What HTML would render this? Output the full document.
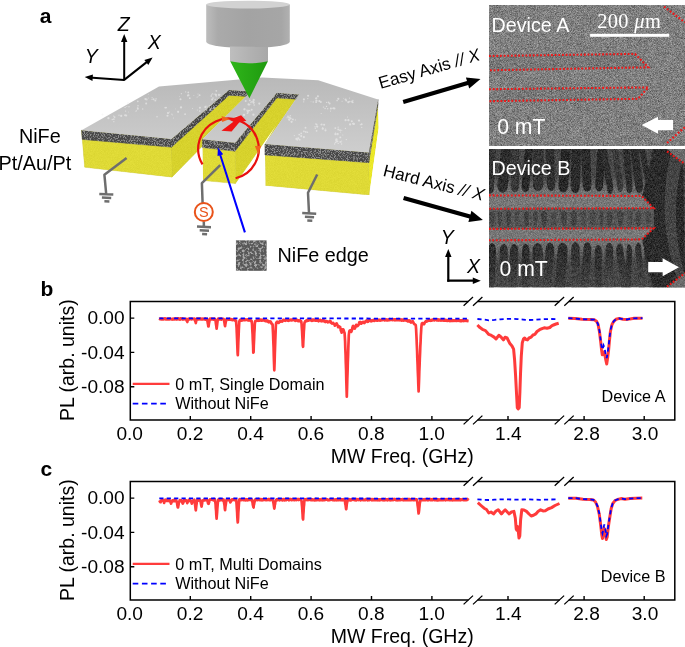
<!DOCTYPE html>
<html><head><meta charset="utf-8"><title>Figure</title><style>
html,body{margin:0;padding:0;background:#fff}
svg{display:block}
text{font-family:"Liberation Sans",Arial,Helvetica,sans-serif;fill:#000}
.tk{font-size:19.1px}
.ax{font-size:19.5px}
.lg{font-size:16.2px}
.pl{font-size:21px;font-weight:bold}
.lb{font-size:19.8px}
.it{font-size:19.5px;font-style:italic}
.axl{font-size:17.1px}
.wt{font-size:19.7px;fill:#fff}
.wt2{font-size:21.2px;fill:#fff}
.sb{font-family:"Liberation Serif","DejaVu Serif",serif;font-size:20.4px;letter-spacing:0.35px;fill:#fff}
</style></head><body>
<svg width="685" height="647" viewBox="0 0 685 647">
<rect width="685" height="647" fill="#fff"/>
<defs>
<filter id="nz" x="0" y="0" width="100%" height="100%" color-interpolation-filters="sRGB">
 <feTurbulence type="fractalNoise" baseFrequency="1.3" numOctaves="1" seed="3" result="t"/>
 <feColorMatrix in="t" type="matrix" values="0 0 0 0 0  0 0 0 0 0  0 0 0 0 0  6 0 0 0 -2.8" result="a"/>
 <feFlood flood-color="#8e8e8e"/><feComposite in2="a" operator="in" result="sp"/>
 <feMerge><feMergeNode in="SourceGraphic"/><feMergeNode in="sp"/></feMerge>
 <feComposite in2="SourceGraphic" operator="in"/>
</filter>
<filter id="semA" x="0" y="0" width="100%" height="100%" color-interpolation-filters="sRGB">
 <feTurbulence type="fractalNoise" baseFrequency="1.7" numOctaves="2" seed="7" result="t"/>
 <feColorMatrix in="t" type="matrix" values="0.55 0 0 0 0.225  0.55 0 0 0 0.225  0.55 0 0 0 0.225  0 0 0 0 1"/>
</filter>
<filter id="semB" x="0" y="0" width="100%" height="100%" color-interpolation-filters="sRGB">
 <feGaussianBlur in="SourceGraphic" stdDeviation="0.7" result="b"/>
 <feTurbulence type="fractalNoise" baseFrequency="1.7" numOctaves="2" seed="11" result="t"/>
 <feColorMatrix in="t" type="matrix" values="1 0 0 0 0  1 0 0 0 0  1 0 0 0 0  0 0 0 0 1" result="n"/>
 <feComposite in="b" in2="n" operator="arithmetic" k1="0" k2="1" k3="0.34" k4="-0.17"/>
</filter>
<filter id="yn" x="0" y="0" width="100%" height="100%" color-interpolation-filters="sRGB">
 <feTurbulence type="fractalNoise" baseFrequency="1.3" numOctaves="1" seed="5" result="t"/>
 <feColorMatrix in="t" type="matrix" values="1 0 0 0 0  1 0 0 0 0  1 0 0 0 0  0 0 0 0 1" result="n"/>
 <feComposite in="SourceGraphic" in2="n" operator="arithmetic" k1="0" k2="1" k3="0.08" k4="-0.04" result="c"/>
 <feComposite in="c" in2="SourceGraphic" operator="in"/>
</filter>
<filter id="nz2" x="0" y="0" width="100%" height="100%" color-interpolation-filters="sRGB">
 <feTurbulence type="fractalNoise" baseFrequency="0.42" numOctaves="2" seed="8" result="t"/>
 <feColorMatrix in="t" type="matrix" values="0 0 0 0 0  0 0 0 0 0  0 0 0 0 0  5 0 0 0 -2.35" result="a"/>
 <feFlood flood-color="#a8a8a8"/><feComposite in2="a" operator="in" result="sp"/>
 <feMerge><feMergeNode in="SourceGraphic"/><feMergeNode in="sp"/></feMerge>
 <feComposite in2="SourceGraphic" operator="in"/>
</filter>
<filter id="bl"><feGaussianBlur stdDeviation="0.5"/></filter>
<linearGradient id="gtop" x1="0" y1="0" x2="0" y2="1"><stop offset="0" stop-color="#b9b9b9"/><stop offset="1" stop-color="#cecece"/></linearGradient>
<linearGradient id="glens" x1="0" y1="0" x2="1" y2="0"><stop offset="0" stop-color="#bdbdbd"/><stop offset="0.14" stop-color="#aaaaaa"/><stop offset="0.5" stop-color="#a3a3a3"/><stop offset="0.9" stop-color="#a6a6a6"/><stop offset="1" stop-color="#b1b1b1"/></linearGradient>
<linearGradient id="glens2" x1="0" y1="0" x2="1" y2="0"><stop offset="0" stop-color="#bebebe"/><stop offset="0.5" stop-color="#b2b2b2"/><stop offset="1" stop-color="#a8a8a8"/></linearGradient>
<linearGradient id="gcone" x1="0" y1="0" x2="1" y2="0"><stop offset="0" stop-color="#2fb51a"/><stop offset="1" stop-color="#1f9a0f"/></linearGradient>
<linearGradient id="gyl" x1="0" y1="0" x2="1" y2="0"><stop offset="0" stop-color="#e6e03c"/><stop offset="1" stop-color="#dcd435"/></linearGradient>
<marker id="ah" viewBox="0 0 10 10" refX="8" refY="5" markerWidth="5" markerHeight="5" orient="auto-start-reverse" markerUnits="strokeWidth"><path d="M0,0.5 L10,5 L0,9.5 z" fill="#000"/></marker>
<linearGradient id="gfT" x1="0" y1="0" x2="0" y2="1"><stop offset="0" stop-color="#727272" stop-opacity="0"/><stop offset="0.6" stop-color="#727272" stop-opacity="0.8"/><stop offset="1" stop-color="#747474"/></linearGradient>
<linearGradient id="gfB" x1="0" y1="0" x2="0" y2="1"><stop offset="0" stop-color="#747474"/><stop offset="0.4" stop-color="#727272" stop-opacity="0.8"/><stop offset="1" stop-color="#727272" stop-opacity="0"/></linearGradient>
<linearGradient id="gf0" gradientUnits="userSpaceOnUse" x1="0" y1="242" x2="0" y2="287"><stop offset="0" stop-color="#2a2a2a"/><stop offset="0.5" stop-color="#303030"/><stop offset="1" stop-color="#3e3e3e"/></linearGradient>
<linearGradient id="gf1" gradientUnits="userSpaceOnUse" x1="0" y1="242" x2="0" y2="287"><stop offset="0" stop-color="#2e2e2e"/><stop offset="0.5" stop-color="#383838"/><stop offset="1" stop-color="#4a4a4a"/></linearGradient>
<linearGradient id="gf2" gradientUnits="userSpaceOnUse" x1="0" y1="242" x2="0" y2="287"><stop offset="0" stop-color="#2c2c2c"/><stop offset="0.5" stop-color="#343434"/><stop offset="1" stop-color="#444444"/></linearGradient>
<clipPath id="cpB"><rect x="489" y="149" width="196" height="138.4"/></clipPath>
</defs>
<g filter="url(#yn)" stroke-width="0.7" stroke-linejoin="round"><polygon points="81.5,130.3 171.5,139.0 172.3,177.2 84.6,167.3" fill="#dfda36" stroke="#dfda36"/><polygon points="171.5,139.0 229.0,90.0 250.8,91.6 202.4,139.2 202.9,146.0 172.3,177.2" fill="#d7d22c" stroke="#d7d22c"/><polygon points="235.0,142.7 276.9,92.8 299.0,94.4 264.9,144.0 264.9,156.0 235.7,183.6" fill="#d7d22c" stroke="#d7d22c"/><polygon points="368.7,152.5 378.0,99.4 378.6,128.0 369.2,195.0" fill="#ebe828"/><polygon points="202.4,139.2 235.0,142.7 235.7,183.6 203.0,180.6" fill="#dfda36" stroke="#dfda36"/><polygon points="264.9,144.0 368.7,152.5 369.2,195.0 265.4,185.4" fill="#dfda36" stroke="#dfda36"/></g>
<polygon points="276.2,125.3 264.9,144.0 265.4,185.4 236.0,186.6 235.7,183.6" fill="#fff"/>
<polygon points="172.3,177.2 202.4,146.5 203.0,182.6 172.3,183.2" fill="#fff"/>
<g filter="url(#nz)" stroke="#474747" stroke-width="0.7"><polygon points="81.5,130.3 171.5,139.0 171.5,147.3 82.1,139.5" fill="#474747"/><polygon points="171.5,139.0 229.0,90.0 229.0,95.4 171.5,147.3" fill="#444444"/><polygon points="229.0,90.0 250.8,91.6 250.8,96.8 229.0,95.4" fill="#474747"/><polygon points="202.4,139.2 235.0,142.7 235.0,151.3 202.4,147.6" fill="#474747"/><polygon points="235.0,142.7 276.9,92.8 276.9,98.0 235.0,151.3" fill="#444444"/><polygon points="276.9,92.8 299.0,94.4 299.0,99.6 276.9,98.0" fill="#474747"/><polygon points="264.9,144.0 368.7,152.5 368.7,162.7 264.9,155.0" fill="#474747"/><polygon points="368.7,152.5 378.0,99.4 378.2,104.4 368.9,162.7" fill="#777"/></g>
<polygon points="81.5,130.3 171.5,139.0 229.0,90.0 250.8,91.6 202.4,139.2 235.0,142.7 276.9,92.8 299.0,94.4 264.9,144.0 368.7,152.5 378.0,99.4 318.2,80.3 262.0,77.5 159.0,86.6" fill="url(#gtop)"/>
<g fill="#f4f4f4" opacity="0.55"><circle cx="112.3" cy="119.4" r="0.73"/><circle cx="113.8" cy="118.9" r="0.73"/><circle cx="125.1" cy="115.3" r="0.99"/><circle cx="113.8" cy="121.7" r="0.64"/><circle cx="113.9" cy="119.3" r="0.60"/><circle cx="126.2" cy="115.5" r="1.01"/><circle cx="113.7" cy="116.1" r="0.67"/><circle cx="102.5" cy="114.5" r="1.05"/><circle cx="114.6" cy="117.1" r="0.87"/><circle cx="107.3" cy="114.9" r="0.57"/><circle cx="108.4" cy="118.2" r="1.10"/><circle cx="119.0" cy="115.2" r="0.66"/><circle cx="121.2" cy="115.9" r="1.07"/><circle cx="138.0" cy="105.7" r="0.74"/><circle cx="126.8" cy="106.5" r="0.56"/><circle cx="128.5" cy="112.1" r="0.48"/><circle cx="142.7" cy="109.0" r="0.65"/><circle cx="125.1" cy="107.4" r="0.69"/><circle cx="137.7" cy="108.0" r="0.74"/><circle cx="136.0" cy="111.2" r="0.64"/><circle cx="125.6" cy="111.1" r="0.67"/><circle cx="118.4" cy="106.1" r="0.52"/><circle cx="137.8" cy="108.7" r="0.99"/><circle cx="129.0" cy="106.8" r="0.68"/><circle cx="136.5" cy="110.4" r="0.48"/><circle cx="128.0" cy="103.2" r="1.12"/><circle cx="148.6" cy="94.5" r="0.46"/><circle cx="146.2" cy="103.5" r="0.99"/><circle cx="137.8" cy="101.3" r="0.88"/><circle cx="152.1" cy="97.6" r="0.58"/><circle cx="146.9" cy="99.3" r="0.72"/><circle cx="155.2" cy="98.6" r="0.46"/><circle cx="153.5" cy="99.3" r="1.00"/><circle cx="146.8" cy="100.1" r="0.52"/><circle cx="156.3" cy="98.8" r="0.60"/><circle cx="151.9" cy="99.2" r="0.57"/><circle cx="148.5" cy="98.1" r="0.48"/><circle cx="145.5" cy="99.1" r="1.15"/><circle cx="155.3" cy="100.5" r="0.99"/><circle cx="157.0" cy="116.8" r="0.78"/><circle cx="172.3" cy="115.1" r="0.48"/><circle cx="168.0" cy="113.1" r="1.07"/><circle cx="175.4" cy="108.9" r="0.47"/><circle cx="171.9" cy="114.2" r="0.60"/><circle cx="173.4" cy="118.0" r="0.55"/><circle cx="185.1" cy="114.2" r="0.85"/><circle cx="178.1" cy="111.8" r="1.08"/><circle cx="166.0" cy="107.6" r="0.97"/><circle cx="169.4" cy="112.0" r="0.60"/><circle cx="181.0" cy="107.4" r="1.10"/><circle cx="167.5" cy="115.8" r="1.01"/><circle cx="165.1" cy="107.7" r="0.82"/><circle cx="181.4" cy="93.7" r="0.64"/><circle cx="198.0" cy="93.9" r="0.50"/><circle cx="199.6" cy="95.2" r="0.92"/><circle cx="197.1" cy="97.1" r="0.54"/><circle cx="193.9" cy="95.5" r="0.49"/><circle cx="189.8" cy="98.2" r="0.85"/><circle cx="185.7" cy="91.9" r="0.60"/><circle cx="198.2" cy="96.1" r="0.46"/><circle cx="187.9" cy="95.4" r="1.02"/><circle cx="188.3" cy="92.4" r="0.84"/><circle cx="188.6" cy="95.2" r="0.92"/><circle cx="180.5" cy="99.3" r="0.99"/><circle cx="179.5" cy="96.4" r="0.47"/><circle cx="211.3" cy="108.7" r="0.79"/><circle cx="209.3" cy="105.5" r="0.55"/><circle cx="199.7" cy="111.1" r="0.82"/><circle cx="214.1" cy="108.3" r="1.03"/><circle cx="210.2" cy="109.5" r="0.72"/><circle cx="206.0" cy="106.0" r="0.61"/><circle cx="192.5" cy="108.5" r="0.52"/><circle cx="210.0" cy="110.2" r="1.07"/><circle cx="199.9" cy="107.8" r="1.05"/><circle cx="205.3" cy="107.1" r="1.07"/><circle cx="206.4" cy="109.9" r="1.04"/><circle cx="197.4" cy="110.0" r="0.57"/><circle cx="207.1" cy="106.9" r="0.55"/><circle cx="211.2" cy="96.1" r="0.83"/><circle cx="220.4" cy="94.4" r="0.45"/><circle cx="213.0" cy="98.1" r="0.79"/><circle cx="214.0" cy="94.0" r="0.50"/><circle cx="215.2" cy="99.5" r="0.70"/><circle cx="216.3" cy="90.8" r="0.89"/><circle cx="212.4" cy="93.8" r="0.67"/><circle cx="219.0" cy="94.9" r="1.09"/><circle cx="212.1" cy="99.4" r="1.00"/><circle cx="211.6" cy="94.7" r="0.55"/><circle cx="215.5" cy="94.3" r="0.91"/><circle cx="216.2" cy="96.6" r="0.55"/><circle cx="216.0" cy="95.0" r="1.08"/><circle cx="249.3" cy="104.7" r="0.70"/><circle cx="251.0" cy="102.5" r="0.73"/><circle cx="253.7" cy="102.6" r="0.91"/><circle cx="250.8" cy="104.3" r="0.47"/><circle cx="259.3" cy="103.6" r="1.03"/><circle cx="253.7" cy="99.9" r="1.12"/><circle cx="254.2" cy="105.0" r="0.80"/><circle cx="245.7" cy="101.1" r="0.98"/><circle cx="253.5" cy="102.8" r="0.91"/><circle cx="249.8" cy="100.3" r="0.88"/><circle cx="253.2" cy="101.7" r="1.10"/><circle cx="248.6" cy="104.4" r="1.08"/><circle cx="251.3" cy="101.5" r="0.61"/><circle cx="244.0" cy="115.0" r="1.15"/><circle cx="248.4" cy="110.6" r="0.73"/><circle cx="247.0" cy="110.2" r="0.74"/><circle cx="247.9" cy="112.1" r="0.83"/><circle cx="244.6" cy="108.9" r="0.71"/><circle cx="250.0" cy="111.0" r="0.56"/><circle cx="253.4" cy="114.7" r="1.14"/><circle cx="249.6" cy="110.4" r="0.67"/><circle cx="247.9" cy="113.0" r="0.61"/><circle cx="251.7" cy="109.8" r="0.99"/><circle cx="247.3" cy="113.4" r="0.66"/><circle cx="247.7" cy="111.5" r="1.00"/><circle cx="244.4" cy="109.3" r="1.12"/><circle cx="237.8" cy="122.2" r="0.56"/><circle cx="238.5" cy="120.3" r="0.67"/><circle cx="238.6" cy="120.4" r="1.14"/><circle cx="236.8" cy="123.7" r="0.94"/><circle cx="237.6" cy="117.4" r="1.12"/><circle cx="240.8" cy="118.0" r="0.84"/><circle cx="236.7" cy="117.3" r="0.84"/><circle cx="236.6" cy="120.0" r="1.04"/><circle cx="237.1" cy="120.1" r="0.57"/><circle cx="239.3" cy="119.0" r="0.72"/><circle cx="236.0" cy="116.7" r="0.68"/><circle cx="236.1" cy="121.2" r="0.47"/><circle cx="238.3" cy="119.8" r="1.12"/><circle cx="301.2" cy="136.1" r="1.04"/><circle cx="301.2" cy="133.4" r="0.84"/><circle cx="294.3" cy="135.6" r="0.58"/><circle cx="305.5" cy="127.8" r="0.94"/><circle cx="307.5" cy="132.3" r="0.72"/><circle cx="303.9" cy="131.3" r="0.86"/><circle cx="303.9" cy="137.1" r="1.09"/><circle cx="298.2" cy="138.3" r="1.08"/><circle cx="299.2" cy="134.6" r="0.89"/><circle cx="299.7" cy="139.7" r="0.91"/><circle cx="297.3" cy="139.8" r="0.89"/><circle cx="296.4" cy="138.9" r="1.07"/><circle cx="305.8" cy="131.9" r="0.91"/><circle cx="315.9" cy="124.1" r="0.82"/><circle cx="322.5" cy="127.8" r="0.51"/><circle cx="316.7" cy="124.6" r="0.83"/><circle cx="315.0" cy="126.7" r="0.59"/><circle cx="325.5" cy="130.3" r="1.09"/><circle cx="317.2" cy="126.6" r="1.13"/><circle cx="320.7" cy="124.8" r="0.45"/><circle cx="321.7" cy="124.5" r="0.89"/><circle cx="325.7" cy="128.6" r="0.47"/><circle cx="315.3" cy="128.2" r="0.70"/><circle cx="324.1" cy="124.8" r="1.02"/><circle cx="316.6" cy="130.8" r="0.87"/><circle cx="322.8" cy="128.7" r="1.13"/><circle cx="338.2" cy="127.2" r="0.66"/><circle cx="335.3" cy="128.1" r="0.94"/><circle cx="335.6" cy="132.6" r="0.46"/><circle cx="345.4" cy="128.4" r="0.64"/><circle cx="338.2" cy="129.5" r="0.89"/><circle cx="340.0" cy="130.2" r="0.88"/><circle cx="337.8" cy="134.9" r="0.47"/><circle cx="337.7" cy="134.0" r="1.09"/><circle cx="342.8" cy="135.0" r="0.51"/><circle cx="340.5" cy="131.9" r="0.51"/><circle cx="340.3" cy="137.4" r="0.92"/><circle cx="341.8" cy="130.2" r="0.53"/><circle cx="335.5" cy="134.2" r="1.14"/><circle cx="353.8" cy="123.9" r="1.04"/><circle cx="361.7" cy="127.3" r="0.66"/><circle cx="345.6" cy="120.2" r="1.08"/><circle cx="360.3" cy="124.7" r="0.58"/><circle cx="351.8" cy="121.3" r="0.99"/><circle cx="353.4" cy="123.9" r="0.47"/><circle cx="350.1" cy="124.4" r="1.14"/><circle cx="348.4" cy="120.2" r="1.14"/><circle cx="353.6" cy="123.8" r="1.12"/><circle cx="359.0" cy="120.6" r="1.14"/><circle cx="361.7" cy="124.3" r="0.94"/><circle cx="347.5" cy="117.0" r="0.52"/><circle cx="352.8" cy="123.6" r="0.79"/><circle cx="323.5" cy="107.1" r="0.70"/><circle cx="329.6" cy="103.4" r="0.98"/><circle cx="333.0" cy="108.3" r="0.60"/><circle cx="330.5" cy="111.1" r="0.59"/><circle cx="326.5" cy="106.4" r="0.70"/><circle cx="326.6" cy="102.4" r="0.58"/><circle cx="321.2" cy="113.5" r="0.60"/><circle cx="333.5" cy="108.3" r="1.03"/><circle cx="328.5" cy="102.4" r="0.80"/><circle cx="334.5" cy="108.5" r="0.95"/><circle cx="327.7" cy="108.8" r="0.71"/><circle cx="325.1" cy="108.5" r="0.76"/><circle cx="330.9" cy="108.4" r="1.00"/><circle cx="349.4" cy="98.1" r="0.53"/><circle cx="348.3" cy="102.2" r="1.08"/><circle cx="337.1" cy="100.6" r="0.82"/><circle cx="352.8" cy="102.3" r="0.87"/><circle cx="343.7" cy="98.3" r="0.47"/><circle cx="342.1" cy="101.2" r="0.55"/><circle cx="352.9" cy="100.3" r="0.65"/><circle cx="346.2" cy="100.6" r="0.89"/><circle cx="352.1" cy="101.5" r="0.92"/><circle cx="338.3" cy="98.8" r="1.11"/><circle cx="349.8" cy="101.6" r="0.83"/><circle cx="345.6" cy="99.5" r="1.05"/><circle cx="351.8" cy="101.9" r="0.53"/><circle cx="316.2" cy="98.4" r="1.14"/><circle cx="316.1" cy="102.2" r="0.87"/><circle cx="319.4" cy="101.1" r="1.06"/><circle cx="320.8" cy="102.1" r="1.00"/><circle cx="307.8" cy="98.6" r="0.63"/><circle cx="316.5" cy="100.7" r="1.06"/><circle cx="313.2" cy="102.0" r="0.65"/><circle cx="308.1" cy="95.7" r="1.07"/><circle cx="311.0" cy="101.8" r="0.45"/><circle cx="303.9" cy="99.4" r="1.04"/><circle cx="316.0" cy="100.8" r="0.51"/><circle cx="303.7" cy="101.8" r="0.65"/><circle cx="317.9" cy="96.3" r="1.02"/><circle cx="291.6" cy="121.8" r="1.10"/><circle cx="290.4" cy="118.0" r="0.45"/><circle cx="289.3" cy="120.1" r="0.75"/><circle cx="292.9" cy="119.4" r="0.92"/><circle cx="288.0" cy="116.4" r="0.83"/><circle cx="289.7" cy="117.4" r="0.76"/><circle cx="290.7" cy="118.6" r="0.98"/><circle cx="289.0" cy="119.5" r="0.64"/><circle cx="289.0" cy="117.5" r="0.90"/><circle cx="295.4" cy="119.9" r="0.56"/><circle cx="290.3" cy="115.8" r="0.75"/><circle cx="289.2" cy="119.6" r="0.98"/><circle cx="287.1" cy="117.7" r="0.62"/><circle cx="337.7" cy="141.2" r="0.79"/><circle cx="336.1" cy="140.2" r="0.86"/><circle cx="336.8" cy="141.5" r="1.12"/><circle cx="336.5" cy="139.4" r="1.12"/><circle cx="335.4" cy="142.5" r="0.66"/><circle cx="338.2" cy="143.4" r="0.67"/><circle cx="341.6" cy="144.0" r="0.65"/><circle cx="334.6" cy="144.0" r="0.67"/><circle cx="346.3" cy="139.6" r="0.68"/><circle cx="341.7" cy="141.0" r="0.52"/><circle cx="341.4" cy="142.0" r="0.45"/><circle cx="340.3" cy="141.9" r="0.91"/><circle cx="336.4" cy="141.6" r="0.62"/></g>
<path d="M202.5,164.4 A30.3,30.3 0 1 1 235.6,178.3" fill="none" stroke="#e8110f" stroke-width="2.2"/>
<polygon points="221.6,116.0 229.8,119.0 222.2,122.0" fill="#f0641e"/>
<polygon points="254.8,146.0 261.2,145.8 258.4,154.4" fill="#f0641e"/>
<polygon points="221.4,130.7 231.6,131.6 239.2,122.6 246.3,120.7 241.1,115.3 229.0,119.8 233.4,121.7" fill="#f01414"/>
<path d="M206.2,4.6 L206.2,41.8 A41.8,6.2 0 0 0 289.8,41.8 L289.8,4.6 Z" fill="url(#glens)"/>
<ellipse cx="248" cy="4.6" rx="41.8" ry="3.9" fill="#d2d2d2"/>
<path d="M230,46.5 L230,61 A19,2.8 0 0 0 268,61 L268,46.8 Z" fill="url(#glens2)"/>
<path d="M230.2,61.3 Q249,65.3 267.9,61.3 L249.4,98.3 Z" fill="url(#gcone)"/>
<path d="M126.6,158.1 L104.4,174.7 L106.2,194 M99.3,193.9 L113.3,194.5 M101.9,197.6 L111.2,198.0 M104.4,201.3 L109.4,201.5 M317.2,174.5 L308,192.8 L309,213 M302.2,213.1 L316.2,213.7 M304.9,216.8 L314.1,217.2 M307.3,220.5 L312.3,220.7 M220.2,165.2 L201.9,183.2 L202.6,203 M203.8,221.5 L203.9,226.5 M197.0,226.6 L211.0,227.2 M199.7,230.3 L209.0,230.7 M202.1,234.0 L207.1,234.2 " fill="none" stroke="#6e6e6e" stroke-width="2.5" stroke-linejoin="round"/>
<circle cx="203.8" cy="212" r="9" fill="#fff" stroke="#e9531a" stroke-width="2"/>
<text x="203.8" y="217.3" text-anchor="middle" style="font-size:14.5px;fill:#e9531a">S</text>
<polygon points="125.2,79.9 125.2,41.9 127.4,41.9 124.2,33.9 121.0,41.9 123.2,41.9 123.2,79.9" fill="#000"/>
<polygon points="124.8,80.7 147.0,63.2 148.3,64.9 152.6,57.4 144.3,59.9 145.7,61.6 123.6,79.1" fill="#000"/>
<polygon points="124.3,78.9 92.8,76.7 92.9,74.5 84.7,77.1 92.5,80.9 92.6,78.7 124.1,80.9" fill="#000"/>
<circle cx="124.2" cy="79.9" r="0.95" fill="#000"/>
<text x="123.6" y="30.6" class="it" text-anchor="middle">Z</text>
<text x="154.2" y="49.2" class="it" text-anchor="middle">X</text>
<text x="91.3" y="63.4" class="it" text-anchor="middle">Y</text>
<text x="39.8" y="23.3" class="pl">a</text>
<text x="39.8" y="142.8" class="lb" text-anchor="middle">NiFe</text>
<text x="-1.4" y="169.7" class="lb">Pt/Au/Pt</text>
<rect x="235.8" y="240.2" width="31" height="30.7" fill="#585858" filter="url(#nz2)"/>
<text x="277.5" y="261.8" class="lb">NiFe edge</text>
<polygon points="245.9,232.1 221.3,154.9 223.2,154.3 217.9,147.6 217.5,156.1 219.4,155.5 243.9,232.7" fill="#0000ff"/>
<polygon points="403.8,104.1 468.2,84.9 469.2,88.4 480.5,79.0 465.9,77.4 467.0,80.9 402.6,100.1" fill="#000"/>
<polygon points="403.0,199.9 469.3,218.4 468.4,221.9 482.9,220.0 471.4,210.8 470.5,214.4 404.2,195.9" fill="#000"/>
<text transform="translate(380.6,89) rotate(-16.2)" class="axl">Easy Axis <tspan font-style="italic">// X</tspan></text>
<text transform="translate(382.2,175.8) rotate(14)" class="axl">Hard Axis <tspan font-style="italic">// X</tspan></text>
<polygon points="449.4,281.7 449.4,256.9 451.5,256.9 448.3,248.9 445.1,256.9 447.2,256.9 447.2,281.7" fill="#000"/>
<polygon points="447.3,281.8 472.8,281.8 472.8,283.9 480.8,280.7 472.8,277.5 472.8,279.6 447.3,279.6" fill="#000"/>
<text x="447.2" y="244.2" class="it" text-anchor="middle">Y</text>
<text x="473.5" y="273.2" class="it" text-anchor="middle">X</text>
<rect x="489.0" y="5.4" width="196.0" height="140.2" fill="#808080" filter="url(#semA)"/>
<polygon points="489,56 635,53.9 648.2,67.3 489,70.3" fill="#000" opacity="0.05"/>
<polygon points="489,89.2 648.2,87.4 638,98.8 489,101.2" fill="#000" opacity="0.05"/>
<path d="M489.0,56.0 L635.0,53.9 L648.2,67.3 L489.0,70.3" fill="none" stroke="#f01818" stroke-width="2.1" stroke-dasharray="1.85 1.8"/>
<path d="M489.0,89.2 L648.2,87.4 L638.0,98.8 L489.0,101.2" fill="none" stroke="#f01818" stroke-width="2.1" stroke-dasharray="1.85 1.8"/>
<path d="M664.0,6.6 L685.0,22.4" fill="none" stroke="#f01818" stroke-width="2.1" stroke-dasharray="1.85 1.8"/>
<path d="M667.0,143.0 L685.0,127.0" fill="none" stroke="#f01818" stroke-width="2.1" stroke-dasharray="1.85 1.8"/>
<text x="491.6" y="32.4" class="wt">Device A</text>
<text x="597.2" y="27.8" class="sb">200 <tspan font-style="italic">μ</tspan>m</text>
<rect x="590.1" y="33.8" width="79.1" height="3" fill="#fff"/>
<text x="497.2" y="133.8" class="wt2">0 mT</text>
<polygon points="641.6,125.1 658,116.7 658,119.9 673,119.9 673,130.2 658,130.2 658,133.8" fill="#fff"/>
<g clip-path="url(#cpB)"><g filter="url(#semB)"><rect x="489.0" y="149.0" width="196.0" height="138.4" fill="#484848"/><rect x="489" y="176" width="166" height="20" fill="url(#gfT)"/><rect x="489" y="240" width="166" height="22" fill="url(#gfB)"/><path d="M487.8,149.0 L495.8,149.0 L494.0,187.0 Q494.0,193.0 490.0,194.0 Q486.0,193.0 486.0,187.0 Z" fill="#323232"/><path d="M501.1,149.0 L511.6,149.0 L507.8,185.8 Q507.8,191.8 502.6,192.8 Q497.4,191.8 497.4,185.8 Z" fill="#2b2b2b"/><path d="M511.1,149.0 L519.3,149.0 L519.1,185.5 Q519.1,191.5 515.0,192.5 Q510.9,191.5 510.9,185.5 Z" fill="#383838"/><path d="M525.0,149.0 L533.0,149.0 L529.4,185.5 Q529.4,191.5 525.5,192.5 Q521.5,191.5 521.5,185.5 Z" fill="#282828"/><path d="M533.3,149.0 L543.8,149.0 L543.4,184.1 Q543.4,190.1 538.1,191.1 Q532.9,190.1 532.9,184.1 Z" fill="#323232"/><path d="M545.6,149.0 L554.0,149.0 L555.3,184.1 Q555.3,190.1 551.1,191.1 Q546.9,190.1 546.9,184.1 Z" fill="#2e2e2e"/><path d="M561.3,149.0 L571.0,149.0 L568.2,185.6 Q568.2,191.6 563.3,192.6 Q558.4,191.6 558.4,185.6 Z" fill="#282828"/><path d="M571.6,149.0 L580.8,149.0 L579.8,186.3 Q579.8,192.3 575.3,193.3 Q570.7,192.3 570.7,186.3 Z" fill="#2b2b2b"/><path d="M581.2,149.0 L590.1,149.0 L591.6,184.7 Q591.6,190.7 587.2,191.7 Q582.7,190.7 582.7,184.7 Z" fill="#2b2b2b"/><path d="M597.7,149.0 L605.6,149.0 L603.1,184.4 Q603.1,190.4 599.1,191.4 Q595.2,190.4 595.2,184.4 Z" fill="#282828"/><path d="M600.1,149.0 L606.5,149.0 L613.3,187.1 Q613.3,193.1 610.1,194.1 Q606.9,193.1 606.9,187.1 Z" fill="#2d2d2d"/><path d="M611.7,149.0 L618.0,149.0 L623.2,185.1 Q623.2,191.1 620.1,192.1 Q617.0,191.1 617.0,185.1 Z" fill="#3a3a3a"/><path d="M623.1,149.0 L629.6,149.0 L632.6,186.5 Q632.6,192.5 629.3,193.5 Q626.1,192.5 626.1,186.5 Z" fill="#2d2d2d"/><path d="M630.2,149.0 L638.2,149.0 L643.2,186.0 Q643.2,192.0 639.2,193.0 Q635.2,192.0 635.2,186.0 Z" fill="#2d2d2d"/><path d="M639.0,149.0 L644.9,149.0 L652.3,186.2 Q652.3,192.2 649.3,193.2 Q646.3,192.2 646.3,186.2 Z" fill="#2d2d2d"/><path d="M652.8,149.0 L660.3,149.0 L663.7,184.9 Q663.7,190.9 660.0,191.9 Q656.2,190.9 656.2,184.9 Z" fill="#333333"/><path d="M486.0,287.4 L494.1,287.4 L496.0,251.0 Q496.0,244.0 492.0,243.0 Q488.0,244.0 488.0,251.0 Z" fill="url(#gf0)"/><path d="M499.8,287.4 L507.8,287.4 L507.7,251.8 Q507.7,244.8 503.7,243.8 Q499.7,244.8 499.7,251.8 Z" fill="url(#gf1)"/><path d="M508.1,287.4 L516.3,287.4 L518.4,252.1 Q518.4,245.1 514.2,244.1 Q510.1,245.1 510.1,252.1 Z" fill="url(#gf2)"/><path d="M522.1,287.4 L529.6,287.4 L529.6,251.8 Q529.6,244.8 525.8,243.8 Q522.0,244.8 522.0,251.8 Z" fill="url(#gf0)"/><path d="M532.8,287.4 L543.1,287.4 L542.8,251.0 Q542.8,244.0 537.6,243.0 Q532.5,244.0 532.5,251.0 Z" fill="url(#gf1)"/><path d="M542.9,287.4 L551.6,287.4 L554.2,250.5 Q554.2,243.5 549.9,242.5 Q545.5,243.5 545.5,250.5 Z" fill="url(#gf2)"/><path d="M554.9,287.4 L564.9,287.4 L567.7,250.4 Q567.7,243.4 562.7,242.4 Q557.7,243.4 557.7,250.4 Z" fill="url(#gf0)"/><path d="M571.9,287.4 L580.6,287.4 L579.7,250.0 Q579.7,243.0 575.4,242.0 Q571.1,243.0 571.1,250.0 Z" fill="url(#gf1)"/><path d="M580.7,287.4 L588.6,287.4 L591.3,250.0 Q591.3,243.0 587.3,242.0 Q583.4,243.0 583.4,250.0 Z" fill="url(#gf2)"/><path d="M594.6,287.4 L601.6,287.4 L601.7,252.8 Q601.7,245.8 598.2,244.8 Q594.7,245.8 594.7,252.8 Z" fill="url(#gf0)"/><path d="M604.8,287.4 L612.5,287.4 L613.2,250.8 Q613.2,243.8 609.4,242.8 Q605.5,243.8 605.5,250.8 Z" fill="url(#gf1)"/><path d="M621.3,287.4 L628.6,287.4 L623.4,251.2 Q623.4,244.2 619.7,243.2 Q616.1,244.2 616.1,251.2 Z" fill="url(#gf2)"/><path d="M625.6,287.4 L631.0,287.4 L631.9,252.0 Q631.9,245.0 629.2,244.0 Q626.5,245.0 626.5,252.0 Z" fill="url(#gf0)"/><path d="M638.9,287.4 L645.0,287.4 L641.3,250.4 Q641.3,243.4 638.2,242.4 Q635.2,243.4 635.2,250.4 Z" fill="url(#gf1)"/><path d="M649.4,287.4 L655.3,287.4 L649.7,251.0 Q649.7,244.0 646.7,243.0 Q643.7,244.0 643.7,251.0 Z" fill="url(#gf2)"/><path d="M656.9,287.4 L663.9,287.4 L659.4,250.0 Q659.4,243.0 655.9,242.0 Q652.4,243.0 652.4,250.0 Z" fill="url(#gf0)"/><polygon points="489,195.4 641.6,196 653.6,208.2 489,208.8" fill="#777777"/><polygon points="489,228.9 653.6,228.3 641.6,239.4 489,240.3" fill="#777777"/><polygon points="489,208.8 653.6,208.2 653.6,228.3 489,228.9" fill="#585858"/><polygon points="490.0,213.0 492.4,210.5 494.9,213.0 494.1,224.5 492.4,227.0 490.7,224.5" fill="#454545"/><polygon points="497.5,213.0 499.8,210.5 502.1,213.0 501.4,224.5 499.8,227.0 498.2,224.5" fill="#454545"/><polygon points="506.2,213.0 508.5,210.5 510.9,213.0 510.2,224.5 508.5,227.0 506.9,224.5" fill="#404040"/><polygon points="514.7,213.0 517.1,210.5 519.5,213.0 518.8,224.5 517.1,227.0 515.4,224.5" fill="#4a4a4a"/><polygon points="523.9,213.0 526.6,210.5 529.4,213.0 528.5,224.5 526.6,227.0 524.7,224.5" fill="#404040"/><polygon points="533.1,213.0 535.6,210.5 538.1,213.0 537.3,224.5 535.6,227.0 533.8,224.5" fill="#454545"/><polygon points="541.0,213.0 544.1,210.5 547.3,213.0 546.4,224.5 544.1,227.0 541.9,224.5" fill="#404040"/><polygon points="551.0,213.0 553.9,210.5 556.8,213.0 555.9,224.5 553.9,227.0 551.9,224.5" fill="#4a4a4a"/><polygon points="560.8,213.0 564.1,210.5 567.3,213.0 566.3,224.5 564.1,227.0 561.8,224.5" fill="#404040"/><polygon points="570.6,213.0 573.9,210.5 577.3,213.0 576.3,224.5 573.9,227.0 571.6,224.5" fill="#454545"/><polygon points="581.3,213.0 583.7,210.5 586.2,213.0 585.5,224.5 583.7,227.0 582.0,224.5" fill="#4a4a4a"/><polygon points="589.2,213.0 592.6,210.5 596.1,213.0 595.1,224.5 592.6,227.0 590.2,224.5" fill="#4a4a4a"/><polygon points="599.2,213.0 601.5,210.5 603.8,213.0 603.1,224.5 601.5,227.0 599.9,224.5" fill="#454545"/><polygon points="606.6,213.0 609.8,210.5 613.0,213.0 612.0,224.5 609.8,227.0 607.6,224.5" fill="#454545"/><polygon points="617.1,213.0 620.3,210.5 623.6,213.0 622.6,224.5 620.3,227.0 618.1,224.5" fill="#454545"/><polygon points="628.0,213.0 630.4,210.5 632.7,213.0 632.0,224.5 630.4,227.0 628.7,224.5" fill="#4a4a4a"/><polygon points="635.4,213.0 638.4,210.5 641.3,213.0 640.4,224.5 638.4,227.0 636.3,224.5" fill="#454545"/><polygon points="645.8,213.0 648.4,210.5 651.1,213.0 650.3,224.5 648.4,227.0 646.6,224.5" fill="#4a4a4a"/><path d="M653,149 L685,149 L685,287.4 L653,287.4 Q648,262 642,240 L654,228.3 L654,208.2 L642,196 Q649,172 653,149 Z" fill="#2b2b2b"/><path d="M672,149 Q654,218 680,287.4 L685,287.4 L685,149 Z" fill="#444"/><path d="M683,158 Q668,218 685,276 Z" fill="#2a2a2a"/><polygon points="667,149 685,149 685,164" fill="#6c6c6c"/><polygon points="667,287.4 685,287.4 685,273" fill="#6c6c6c"/></g></g>
<path d="M489.0,195.4 L641.6,196.0 L653.6,208.2 L489.0,208.8" fill="none" stroke="#f01818" stroke-width="2.1" stroke-dasharray="1.85 1.8"/>
<path d="M489.0,228.9 L653.6,228.3 L641.6,239.4 L489.0,240.3" fill="none" stroke="#f01818" stroke-width="2.1" stroke-dasharray="1.85 1.8"/>
<path d="M667.0,151.4 L685.0,164.0" fill="none" stroke="#f01818" stroke-width="2.1" stroke-dasharray="1.85 1.8"/>
<path d="M667.0,286.7 L685.0,273.2" fill="none" stroke="#f01818" stroke-width="2.1" stroke-dasharray="1.85 1.8"/>
<text x="491.6" y="175.3" class="wt">Device B</text>
<text x="499.5" y="276.2" class="wt2">0 mT</text>
<polygon points="679,267.2 662.6,258.2 662.6,262.1 648.2,262.1 648.2,272.3 662.6,272.3 662.6,276.2" fill="#fff"/>
<path d="M468.4,301.4 L130.3,301.4 L130.3,420.0 L468.4,420.0 M477.6,301.4 L559.6,301.4 M477.6,420.0 L559.6,420.0 M568.8,301.4 L674.8,301.4 L674.8,420.0 L568.8,420.0 " fill="none" stroke="#000" stroke-width="1.5" stroke-linejoin="miter"/>
<path d="M463.6,305.8 L473.0,297.0 M473.0,305.8 L482.4,297.0 M554.7,305.8 L564.1,297.0 M564.3,305.8 L573.7,297.0 M463.6,424.4 L473.0,415.6 M473.0,424.4 L482.4,415.6 M554.7,424.4 L564.1,415.6 M564.3,424.4 L573.7,415.6 " fill="none" stroke="#000" stroke-width="1.3"/>
<path d="M190.3,420.0 v-4 M250.7,420.0 v-4 M311.1,420.0 v-4 M371.5,420.0 v-4 M431.9,420.0 v-4 M508.0,420.0 v-4 M584.1,420.0 v-4 M644.2,420.0 v-4 M130.3,318.1 h4 M130.3,352.4 h4 M130.3,386.7 h4 " fill="none" stroke="#000" stroke-width="1.4"/>
<text x="129.7" y="440.4" class="tk" text-anchor="middle">0.0</text>
<text x="190.1" y="440.4" class="tk" text-anchor="middle">0.2</text>
<text x="250.5" y="440.4" class="tk" text-anchor="middle">0.4</text>
<text x="310.9" y="440.4" class="tk" text-anchor="middle">0.6</text>
<text x="371.3" y="440.4" class="tk" text-anchor="middle">0.8</text>
<text x="431.7" y="440.4" class="tk" text-anchor="middle">1.0</text>
<text x="508.3" y="440.3" class="tk" text-anchor="middle">1.4</text>
<text x="586.5" y="440.3" class="tk" text-anchor="middle">2.8</text>
<text x="645" y="440.3" class="tk" text-anchor="middle">3.0</text>
<text x="124.6" y="324.4" class="tk" text-anchor="end">0.00</text>
<text x="124.6" y="358.7" class="tk" text-anchor="end">-0.04</text>
<text x="124.6" y="393.0" class="tk" text-anchor="end">-0.08</text>
<text x="402.2" y="462.8" class="ax" text-anchor="middle">MW Freq. (GHz)</text>
<text transform="translate(74.3,360.2) rotate(-90)" class="ax" text-anchor="middle">PL (arb. units)</text>
<path d="M159.3,318.7 L159.6,319.0 L159.8,318.8 L160.1,319.1 L160.3,319.1 L160.6,318.5 L160.8,318.5 L161.1,319.3 L161.3,318.7 L161.6,318.7 L161.8,319.4 L162.1,318.9 L162.3,319.3 L162.6,318.9 L162.8,319.1 L163.1,318.6 L163.3,319.1 L163.6,319.3 L163.8,319.0 L164.1,319.2 L164.3,319.1 L164.6,318.5 L164.8,319.2 L165.1,319.0 L165.3,318.8 L165.6,318.5 L165.8,319.3 L166.1,318.9 L166.3,319.2 L166.6,319.4 L166.8,319.2 L167.1,319.4 L167.3,318.9 L167.6,319.3 L167.8,318.9 L168.1,319.4 L168.3,319.3 L168.6,318.6 L168.8,318.6 L169.1,318.7 L169.3,319.4 L169.6,318.9 L169.8,319.1 L170.1,318.8 L170.3,319.0 L170.6,318.8 L170.8,318.8 L171.1,319.0 L171.3,319.0 L171.6,319.4 L171.8,319.1 L172.1,319.4 L172.3,319.3 L172.6,319.5 L172.8,319.1 L173.1,318.6 L173.3,319.3 L173.6,319.4 L173.8,319.4 L174.1,319.0 L174.3,319.2 L174.6,318.7 L174.8,319.3 L175.1,319.0 L175.3,318.8 L175.6,318.5 L175.8,319.3 L176.1,319.5 L176.3,318.6 L176.6,319.3 L176.8,318.9 L177.1,318.6 L177.3,318.8 L177.6,319.2 L177.8,319.3 L178.1,318.5 L178.3,319.1 L178.6,318.5 L178.8,319.2 L179.1,318.8 L179.3,319.4 L179.6,319.5 L179.8,319.0 L180.1,319.5 L180.3,318.8 L180.6,318.5 L180.8,319.1 L181.1,318.5 L181.3,318.7 L181.6,318.9 L181.8,319.1 L182.1,318.6 L182.3,318.5 L182.6,319.4 L182.8,318.8 L183.1,319.5 L183.3,319.4 L183.6,318.9 L183.8,318.9 L184.1,319.0 L184.3,319.1 L184.6,319.1 L184.8,319.0 L185.1,319.1 L185.3,319.4 L185.6,319.0 L185.8,318.9 L186.1,319.3 L186.3,319.2 L186.6,319.8 L186.8,321.1 L187.1,321.3 L187.3,322.0 L187.6,320.7 L187.8,320.4 L188.1,320.0 L188.3,318.9 L188.6,319.2 L188.8,319.1 L189.1,318.6 L189.3,319.1 L189.6,319.0 L189.8,319.2 L190.1,318.9 L190.3,319.2 L190.6,319.2 L190.8,318.5 L191.1,318.5 L191.3,319.2 L191.6,319.4 L191.8,318.7 L192.1,319.0 L192.3,319.1 L192.6,318.8 L192.8,318.9 L193.1,318.8 L193.3,318.9 L193.6,319.1 L193.8,318.8 L194.1,318.8 L194.3,319.2 L194.6,318.7 L194.8,319.9 L195.1,320.8 L195.3,321.2 L195.6,322.0 L195.8,323.1 L196.1,321.6 L196.3,320.6 L196.6,320.1 L196.8,319.7 L197.1,318.6 L197.3,318.8 L197.6,318.8 L197.8,319.3 L198.1,318.9 L198.3,319.4 L198.6,318.7 L198.8,318.9 L199.1,319.2 L199.3,319.4 L199.6,319.0 L199.8,318.7 L200.1,318.6 L200.3,319.0 L200.6,318.7 L200.8,319.3 L201.1,319.3 L201.3,318.7 L201.6,318.8 L201.8,319.3 L202.1,319.2 L202.3,319.3 L202.6,318.9 L202.8,318.7 L203.1,318.8 L203.3,319.3 L203.6,318.8 L203.8,318.9 L204.1,318.9 L204.3,318.9 L204.6,318.9 L204.8,319.4 L205.1,318.7 L205.3,318.5 L205.6,319.5 L205.8,319.4 L206.1,319.5 L206.3,319.0 L206.6,319.5 L206.8,319.5 L207.1,319.0 L207.3,320.5 L207.6,321.9 L207.8,323.3 L208.1,324.8 L208.3,326.4 L208.6,326.4 L208.8,324.5 L209.1,322.6 L209.3,321.7 L209.6,320.1 L209.8,319.6 L210.1,318.6 L210.3,319.4 L210.6,319.2 L210.8,319.4 L211.1,319.4 L211.3,319.4 L211.6,319.1 L211.8,318.6 L212.1,319.3 L212.3,318.8 L212.6,318.9 L212.8,319.3 L213.1,319.1 L213.3,319.0 L213.6,319.5 L213.8,319.2 L214.1,318.9 L214.3,318.8 L214.6,319.4 L214.8,319.0 L215.1,319.3 L215.3,319.6 L215.6,320.8 L215.8,322.7 L216.1,324.7 L216.3,326.0 L216.6,328.7 L216.8,327.2 L217.1,325.0 L217.3,323.2 L217.6,320.8 L217.8,320.1 L218.1,319.4 L218.3,318.6 L218.6,318.9 L218.8,318.9 L219.1,319.2 L219.3,319.1 L219.6,319.1 L219.8,319.4 L220.1,318.6 L220.3,318.7 L220.6,318.7 L220.8,318.7 L221.1,318.7 L221.3,319.6 L221.6,319.5 L221.8,318.7 L222.1,319.2 L222.3,319.0 L222.6,319.0 L222.8,319.0 L223.1,319.3 L223.3,319.2 L223.6,319.0 L223.8,319.5 L224.1,320.6 L224.3,321.7 L224.6,323.5 L224.8,325.2 L225.1,326.2 L225.3,324.4 L225.6,323.0 L225.8,321.8 L226.1,320.9 L226.3,320.1 L226.6,319.1 L226.8,319.5 L227.1,319.3 L227.3,319.2 L227.6,319.1 L227.8,319.3 L228.1,319.5 L228.3,319.2 L228.6,319.6 L228.8,319.3 L229.1,319.1 L229.3,319.4 L229.6,319.6 L229.8,318.9 L230.1,319.3 L230.3,319.2 L230.6,319.7 L230.8,319.7 L231.1,319.2 L231.3,319.8 L231.6,319.7 L231.8,319.3 L232.1,319.6 L232.3,319.3 L232.6,320.0 L232.8,319.9 L233.1,320.1 L233.3,320.0 L233.6,319.9 L233.8,320.0 L234.1,319.9 L234.3,319.6 L234.6,320.2 L234.8,319.8 L235.1,320.2 L235.3,321.0 L235.6,320.4 L235.8,320.6 L236.1,320.7 L236.3,324.4 L236.6,328.0 L236.8,333.0 L237.1,339.6 L237.3,345.3 L237.6,352.9 L237.8,355.1 L238.1,348.3 L238.3,342.0 L238.6,335.6 L238.8,330.3 L239.1,324.7 L239.3,321.8 L239.6,320.6 L239.8,320.6 L240.1,319.8 L240.3,320.4 L240.6,320.5 L240.8,319.6 L241.1,319.9 L241.3,320.2 L241.6,320.5 L241.8,319.9 L242.1,319.9 L242.3,319.9 L242.6,320.2 L242.8,320.3 L243.1,319.8 L243.3,319.7 L243.6,319.6 L243.8,319.5 L244.1,319.6 L244.3,319.3 L244.6,319.7 L244.8,320.2 L245.1,319.7 L245.3,320.1 L245.6,319.5 L245.8,320.0 L246.1,320.0 L246.3,319.9 L246.6,319.6 L246.8,319.6 L247.1,319.7 L247.3,320.0 L247.6,319.3 L247.8,319.3 L248.1,320.1 L248.3,320.4 L248.6,320.1 L248.8,320.1 L249.1,320.5 L249.3,320.0 L249.6,320.1 L249.8,320.0 L250.1,320.4 L250.3,320.1 L250.6,320.1 L250.8,320.7 L251.1,321.1 L251.3,320.7 L251.6,321.3 L251.8,321.6 L252.1,325.4 L252.3,329.6 L252.6,334.4 L252.8,339.9 L253.1,345.8 L253.3,352.7 L253.6,352.1 L253.8,345.1 L254.1,339.1 L254.3,333.4 L254.6,328.9 L254.8,324.0 L255.1,321.9 L255.3,321.1 L255.6,321.2 L255.8,320.9 L256.1,321.1 L256.3,320.9 L256.6,320.5 L256.8,320.3 L257.1,320.5 L257.3,320.6 L257.6,320.2 L257.8,320.6 L258.1,320.9 L258.3,320.4 L258.6,320.2 L258.8,320.2 L259.1,320.6 L259.3,320.5 L259.6,320.7 L259.8,320.4 L260.1,319.7 L260.3,319.6 L260.6,319.6 L260.8,319.6 L261.1,320.2 L261.3,320.4 L261.6,320.6 L261.8,320.0 L262.1,320.6 L262.3,320.1 L262.6,320.2 L262.8,320.4 L263.1,319.7 L263.3,319.7 L263.6,320.4 L263.8,319.9 L264.1,320.1 L264.3,320.5 L264.6,320.8 L264.8,320.3 L265.1,320.8 L265.3,321.0 L265.6,321.1 L265.8,320.8 L266.1,321.2 L266.3,321.4 L266.6,320.8 L266.8,320.9 L267.1,320.4 L267.3,320.6 L267.6,321.2 L267.8,320.8 L268.1,321.8 L268.3,322.0 L268.6,321.4 L268.8,322.3 L269.1,321.7 L269.3,322.1 L269.6,321.9 L269.8,321.3 L270.1,321.7 L270.3,321.7 L270.6,322.0 L270.8,321.8 L271.1,322.7 L271.3,323.4 L271.6,323.6 L271.8,323.9 L272.1,323.7 L272.3,324.2 L272.6,324.6 L272.8,329.0 L273.1,334.4 L273.3,340.7 L273.6,347.6 L273.8,356.1 L274.1,364.7 L274.3,370.3 L274.6,362.4 L274.8,354.1 L275.1,345.8 L275.3,339.4 L275.6,332.1 L275.8,326.7 L276.1,323.4 L276.3,322.8 L276.6,322.3 L276.8,322.1 L277.1,321.8 L277.3,321.7 L277.6,321.8 L277.8,321.9 L278.1,322.7 L278.3,322.9 L278.6,322.7 L278.8,322.8 L279.1,322.2 L279.3,321.9 L279.6,321.7 L279.8,322.0 L280.1,321.0 L280.3,321.3 L280.6,321.1 L280.8,321.6 L281.1,321.3 L281.3,321.3 L281.6,321.4 L281.8,321.5 L282.1,321.6 L282.3,321.0 L282.6,321.3 L282.8,320.3 L283.1,320.3 L283.3,319.9 L283.6,319.8 L283.8,320.5 L284.1,320.5 L284.3,320.0 L284.6,320.1 L284.8,320.4 L285.1,320.7 L285.3,320.8 L285.6,320.7 L285.8,320.4 L286.1,319.9 L286.3,320.0 L286.6,319.8 L286.8,320.1 L287.1,320.1 L287.3,319.8 L287.6,319.9 L287.8,320.5 L288.1,319.9 L288.3,320.7 L288.6,320.8 L288.8,320.8 L289.1,320.1 L289.3,320.2 L289.6,320.1 L289.8,320.1 L290.1,320.3 L290.3,320.0 L290.6,319.6 L290.8,320.2 L291.1,319.9 L291.3,320.1 L291.6,320.3 L291.8,319.6 L292.1,320.3 L292.3,320.2 L292.6,319.9 L292.8,319.9 L293.1,319.8 L293.3,319.5 L293.6,319.8 L293.8,319.4 L294.1,320.0 L294.3,320.2 L294.6,320.1 L294.8,320.4 L295.1,320.8 L295.3,320.8 L295.6,320.0 L295.8,320.6 L296.1,320.4 L296.3,319.8 L296.6,320.0 L296.8,319.9 L297.1,319.8 L297.3,320.3 L297.6,320.8 L297.8,320.3 L298.1,321.0 L298.3,320.9 L298.6,320.4 L298.8,321.1 L299.1,320.8 L299.3,321.0 L299.6,320.7 L299.8,320.7 L300.1,320.3 L300.3,320.8 L300.6,321.2 L300.8,321.3 L301.1,321.2 L301.3,321.9 L301.6,324.2 L301.8,327.4 L302.1,331.4 L302.3,335.8 L302.6,340.7 L302.8,345.7 L303.1,346.8 L303.3,341.7 L303.6,336.6 L303.8,332.0 L304.1,328.2 L304.3,324.5 L304.6,322.2 L304.8,322.1 L305.1,321.6 L305.3,321.2 L305.6,321.7 L305.8,321.3 L306.1,320.6 L306.3,320.4 L306.6,320.4 L306.8,320.4 L307.1,320.0 L307.3,319.9 L307.6,320.2 L307.8,320.8 L308.1,320.3 L308.3,320.6 L308.6,320.3 L308.8,320.3 L309.1,320.1 L309.3,320.3 L309.6,319.9 L309.8,319.7 L310.1,319.8 L310.3,319.9 L310.6,320.3 L310.8,320.0 L311.1,320.0 L311.3,320.5 L311.6,320.5 L311.8,320.8 L312.1,320.0 L312.3,320.3 L312.6,320.2 L312.8,319.7 L313.1,320.5 L313.3,319.7 L313.6,319.6 L313.8,320.0 L314.1,319.8 L314.3,320.3 L314.6,320.1 L314.8,319.9 L315.1,319.9 L315.3,320.6 L315.6,320.0 L315.8,320.5 L316.1,320.1 L316.3,320.5 L316.6,319.9 L316.8,319.9 L317.1,320.0 L317.3,320.7 L317.6,320.6 L317.8,320.5 L318.1,320.3 L318.3,321.0 L318.6,321.3 L318.8,320.8 L319.1,320.1 L319.3,320.1 L319.6,320.0 L319.8,320.0 L320.1,319.9 L320.3,319.9 L320.6,320.6 L320.8,321.0 L321.1,320.4 L321.3,321.3 L321.6,320.8 L321.8,321.1 L322.1,321.2 L322.3,321.1 L322.6,320.1 L322.8,320.2 L323.1,320.5 L323.3,320.9 L323.6,320.1 L323.8,320.5 L324.1,321.3 L324.3,320.7 L324.6,321.2 L324.8,321.3 L325.1,321.8 L325.3,322.0 L325.6,321.2 L325.8,321.6 L326.1,321.5 L326.3,321.6 L326.6,321.3 L326.8,321.7 L327.1,321.3 L327.3,321.5 L327.6,321.5 L327.8,322.3 L328.1,322.1 L328.3,321.9 L328.6,321.7 L328.8,322.1 L329.1,321.8 L329.3,321.7 L329.6,321.2 L329.8,321.3 L330.1,321.0 L330.3,321.8 L330.6,321.4 L330.8,322.2 L331.1,322.9 L331.3,323.1 L331.6,322.8 L331.8,323.0 L332.1,323.6 L332.3,323.3 L332.6,323.4 L332.8,323.3 L333.1,322.9 L333.3,323.5 L333.6,323.6 L333.8,323.6 L334.1,324.1 L334.3,324.3 L334.6,325.0 L334.8,325.7 L335.1,324.9 L335.3,325.1 L335.6,324.3 L335.8,323.9 L336.1,324.1 L336.3,323.5 L336.6,323.3 L336.8,323.6 L337.1,324.5 L337.3,325.1 L337.6,325.2 L337.8,326.0 L338.1,327.2 L338.3,326.7 L338.6,327.1 L338.8,326.8 L339.1,326.9 L339.3,326.5 L339.6,326.7 L339.8,326.6 L340.1,326.9 L340.3,327.7 L340.6,328.7 L340.8,330.5 L341.1,330.8 L341.3,331.4 L341.6,332.7 L341.8,331.8 L342.1,332.0 L342.3,330.5 L342.6,330.1 L342.8,329.3 L343.1,329.6 L343.3,329.4 L343.6,329.9 L343.8,330.9 L344.1,331.9 L344.3,332.2 L344.6,333.1 L344.8,336.4 L345.1,341.4 L345.3,348.3 L345.6,354.9 L345.8,362.6 L346.1,370.4 L346.3,380.2 L346.6,390.5 L346.8,396.6 L347.1,386.8 L347.3,378.6 L347.6,370.6 L347.8,362.4 L348.1,355.2 L348.3,347.9 L348.6,340.7 L348.8,335.1 L349.1,332.9 L349.3,331.4 L349.6,330.7 L349.8,331.0 L350.1,330.3 L350.3,330.7 L350.6,330.7 L350.8,331.2 L351.1,331.3 L351.3,331.9 L351.6,331.1 L351.8,330.4 L352.1,329.4 L352.3,327.9 L352.6,327.3 L352.8,326.3 L353.1,325.9 L353.3,326.5 L353.6,326.8 L353.8,327.5 L354.1,327.6 L354.3,328.3 L354.6,328.1 L354.8,328.6 L355.1,328.2 L355.3,327.0 L355.6,327.0 L355.8,325.6 L356.1,325.0 L356.3,325.4 L356.6,324.9 L356.8,325.2 L357.1,325.5 L357.3,325.2 L357.6,326.0 L357.8,325.5 L358.1,325.4 L358.3,324.9 L358.6,324.7 L358.8,324.1 L359.1,323.0 L359.3,322.4 L359.6,322.3 L359.8,322.3 L360.1,322.0 L360.3,322.3 L360.6,323.1 L360.8,323.3 L361.1,323.7 L361.3,323.7 L361.6,323.5 L361.8,322.8 L362.1,322.3 L362.3,322.2 L362.6,322.1 L362.8,322.0 L363.1,322.0 L363.3,321.9 L363.6,322.6 L363.8,322.2 L364.1,322.5 L364.3,323.0 L364.6,322.9 L364.8,322.2 L365.1,321.9 L365.3,322.2 L365.6,321.1 L365.8,320.9 L366.1,321.1 L366.3,321.0 L366.6,320.6 L366.8,320.5 L367.1,320.8 L367.3,321.5 L367.6,321.2 L367.8,321.8 L368.1,321.5 L368.3,321.6 L368.6,320.5 L368.8,320.5 L369.1,320.2 L369.3,320.5 L369.6,320.4 L369.8,320.1 L370.1,320.7 L370.3,320.4 L370.6,320.8 L370.8,320.8 L371.1,321.4 L371.3,321.0 L371.6,320.8 L371.8,320.4 L372.1,320.7 L372.3,320.7 L372.6,320.6 L372.8,320.8 L373.1,320.6 L373.3,320.1 L373.6,320.0 L373.8,320.7 L374.1,320.8 L374.3,320.5 L374.6,320.8 L374.8,320.5 L375.1,320.1 L375.3,319.8 L375.6,319.6 L375.8,320.1 L376.1,320.3 L376.3,320.3 L376.6,319.9 L376.8,320.2 L377.1,320.6 L377.3,320.6 L377.6,320.4 L377.8,320.3 L378.1,320.4 L378.3,320.0 L378.6,319.9 L378.8,320.3 L379.1,320.5 L379.3,320.0 L379.6,319.9 L379.8,319.8 L380.1,320.0 L380.3,320.4 L380.6,320.1 L380.8,320.6 L381.1,319.8 L381.3,319.9 L381.6,320.0 L381.8,319.8 L382.1,320.2 L382.3,320.1 L382.6,320.1 L382.8,319.7 L383.1,319.2 L383.3,319.8 L383.6,319.8 L383.8,319.8 L384.1,319.7 L384.3,320.2 L384.6,320.4 L384.8,319.5 L385.1,320.1 L385.3,319.7 L385.6,319.8 L385.8,320.1 L386.1,320.2 L386.3,319.9 L386.6,319.5 L386.8,320.3 L387.1,319.6 L387.3,319.8 L387.6,320.3 L387.8,319.8 L388.1,319.7 L388.3,320.3 L388.6,320.2 L388.8,319.5 L389.1,319.5 L389.3,319.3 L389.6,319.2 L389.8,319.3 L390.1,320.1 L390.3,319.3 L390.6,319.5 L390.8,319.5 L391.1,319.4 L391.3,319.8 L391.6,320.0 L391.8,320.0 L392.1,319.8 L392.3,319.9 L392.6,319.1 L392.8,319.4 L393.1,320.1 L393.3,319.3 L393.6,319.6 L393.8,319.8 L394.1,319.7 L394.3,320.0 L394.6,319.5 L394.8,319.6 L395.1,320.3 L395.3,319.4 L395.6,320.1 L395.8,319.3 L396.1,320.1 L396.3,319.8 L396.6,319.8 L396.8,319.3 L397.1,319.3 L397.3,320.1 L397.6,319.5 L397.8,319.5 L398.1,320.1 L398.3,320.1 L398.6,319.2 L398.8,320.1 L399.1,319.7 L399.3,319.5 L399.6,319.3 L399.8,319.6 L400.1,320.3 L400.3,319.7 L400.6,319.6 L400.8,319.7 L401.1,319.7 L401.3,320.0 L401.6,320.5 L401.8,319.6 L402.1,319.7 L402.3,320.4 L402.6,320.4 L402.8,320.4 L403.1,319.7 L403.3,319.9 L403.6,320.6 L403.8,320.2 L404.1,320.4 L404.3,320.1 L404.6,319.8 L404.8,320.0 L405.1,320.4 L405.3,320.3 L405.6,320.0 L405.8,319.9 L406.1,320.0 L406.3,320.0 L406.6,320.2 L406.8,320.7 L407.1,320.2 L407.3,320.8 L407.6,321.3 L407.8,321.3 L408.1,320.6 L408.3,321.4 L408.6,321.2 L408.8,320.5 L409.1,320.6 L409.3,320.6 L409.6,320.5 L409.8,321.7 L410.1,321.3 L410.3,322.0 L410.6,321.5 L410.8,321.6 L411.1,322.5 L411.3,322.4 L411.6,322.4 L411.8,322.0 L412.1,321.7 L412.3,321.8 L412.6,321.1 L412.8,321.8 L413.1,322.0 L413.3,322.1 L413.6,323.0 L413.8,323.3 L414.1,323.9 L414.3,324.1 L414.6,324.2 L414.8,324.3 L415.1,324.5 L415.3,324.8 L415.6,324.8 L415.8,325.6 L416.1,329.1 L416.3,333.2 L416.6,339.4 L416.8,344.8 L417.1,351.0 L417.3,358.0 L417.6,364.8 L417.8,371.0 L418.1,377.8 L418.3,384.0 L418.6,391.4 L418.8,386.5 L419.1,378.7 L419.3,371.4 L419.6,365.0 L419.8,358.8 L420.1,352.5 L420.3,346.8 L420.6,341.6 L420.8,336.0 L421.1,331.5 L421.3,327.8 L421.6,325.0 L421.8,323.7 L422.1,324.0 L422.3,323.2 L422.6,323.6 L422.8,323.1 L423.1,323.1 L423.3,323.6 L423.6,324.1 L423.8,323.7 L424.1,324.1 L424.3,323.7 L424.6,323.0 L424.8,322.5 L425.1,322.3 L425.3,321.8 L425.6,321.5 L425.8,321.6 L426.1,321.7 L426.3,321.4 L426.6,321.0 L426.8,321.1 L427.1,321.2 L427.3,321.4 L427.6,320.8 L427.8,320.6 L428.1,320.6 L428.3,320.3 L428.6,319.9 L428.8,320.3 L429.1,320.6 L429.3,320.2 L429.6,320.4 L429.8,320.6 L430.1,320.7 L430.3,320.9 L430.6,320.4 L430.8,320.7 L431.1,320.0 L431.3,320.7 L431.6,320.1 L431.8,320.1 L432.1,320.4 L432.3,319.7 L432.6,319.6 L432.8,320.3 L433.1,320.1 L433.3,319.7 L433.6,319.6 L433.8,320.0 L434.1,319.6 L434.3,320.4 L434.6,319.7 L434.8,319.7 L435.1,319.7 L435.3,319.8 L435.6,319.7 L435.8,319.9 L436.1,320.0 L436.3,319.8 L436.6,319.5 L436.8,320.5 L437.1,320.2 L437.3,319.6 L437.6,320.0 L437.8,320.3 L438.1,320.5 L438.3,319.6 L438.6,319.5 L438.8,319.9 L439.1,319.9 L439.3,320.4 L439.6,320.4 L439.8,319.9 L440.1,320.1 L440.3,320.3 L440.6,320.6 L440.8,319.9 L441.1,320.1 L441.3,319.7 L441.6,320.2 L441.8,319.6 L442.1,320.5 L442.3,320.1 L442.6,320.1 L442.8,319.7 L443.1,319.9 L443.3,320.1 L443.6,320.6 L443.8,320.3 L444.1,320.0 L444.3,320.7 L444.6,320.4 L444.8,320.3 L445.1,319.9 L445.3,320.0 L445.6,320.6 L445.8,319.9 L446.1,320.3 L446.3,320.5 L446.6,320.3 L446.8,320.7 L447.1,320.9 L447.3,320.9 L447.6,320.7 L447.8,320.2 L448.1,320.0 L448.3,320.4 L448.6,320.3 L448.8,320.1 L449.1,320.8 L449.3,320.2 L449.6,320.8 L449.8,321.0 L450.1,320.2 L450.3,321.0 L450.6,320.5 L450.8,320.3 L451.1,320.3 L451.3,320.2 L451.6,320.6 L451.8,320.5 L452.1,321.0 L452.3,321.0 L452.6,320.2 L452.8,320.6 L453.1,320.6 L453.3,320.4 L453.6,320.5 L453.8,320.5 L454.1,320.9 L454.3,320.6 L454.6,320.3 L454.8,320.4 L455.1,320.6 L455.3,320.7 L455.6,320.4 L455.8,320.8 L456.1,320.3 L456.3,320.8 L456.6,320.8 L456.8,320.3 L457.1,320.9 L457.3,320.6 L457.6,320.7 L457.8,320.7 L458.1,320.7 L458.3,320.5 L458.6,320.1 L458.8,320.8 L459.1,320.9 L459.3,320.6 L459.6,320.7 L459.8,320.4 L460.1,321.0 L460.3,320.8 L460.6,320.4 L460.8,321.0 L461.1,321.1 L461.3,320.5 L461.6,321.1 L461.8,320.6 L462.1,320.3 L462.3,320.8 L462.6,320.4 L462.8,320.8 L463.1,320.7 L463.3,320.2 L463.6,320.7 L463.8,321.0 L464.1,320.6 L464.3,320.6 L464.6,320.9 L464.8,320.5 L465.1,320.5 L465.3,320.6 L465.6,320.9 L465.8,320.2 L466.1,320.1 L466.3,320.8 L466.6,320.6 L466.8,320.4 L467.1,321.0 L467.3,321.0 L467.6,320.6 L467.8,321.1 L468.1,320.9 L468.3,320.8" fill="none" stroke="#ff3b3b" stroke-width="2.7" stroke-linejoin="round" stroke-linecap="butt"/>
<path d="M477.4,325.0 L480.0,327.6 L483.0,329.7 L485.5,330.6 L488.6,334.3 L491.0,335.2 L494.1,337.1 L496.0,339.0 L498.8,335.3 L501.0,337.0 L503.4,339.9 L505.0,337.2 L507.1,338.0 L509.9,343.6 L512.0,346.0 L513.6,349.2 L514.6,360.0 L515.5,374.2 L516.6,395.0 L517.3,407.6 L518.2,409.0 L519.2,407.6 L519.9,392.0 L520.5,374.2 L521.3,356.0 L522.3,342.7 L523.5,339.0 L524.7,338.0 L526.0,339.5 L527.5,339.9 L529.0,338.0 L531.2,337.1 L533.0,335.0 L534.9,334.3 L537.0,331.5 L539.6,329.7 L542.0,328.6 L544.2,327.8 L547.0,328.2 L549.8,327.5 L552.0,325.6 L553.5,325.0 L556.0,324.0 L558.7,323.2" fill="none" stroke="#ff3b3b" stroke-width="3.0" stroke-linejoin="round" stroke-linecap="butt"/>
<path d="M568.3,318.2 L575.0,318.6 L582.0,319.3 L590.0,319.6 L594.3,319.8 L596.5,321.3 L598.0,324.1 L599.5,332.0 L600.8,342.7 L601.6,350.0 L602.3,354.7 L603.2,352.0 L604.5,353.0 L605.6,359.0 L606.7,364.0 L607.6,358.0 L608.6,350.0 L609.5,340.0 L610.4,331.5 L612.0,324.5 L613.8,321.3 L616.0,319.3 L619.3,318.4 L623.0,319.3 L626.8,319.6 L630.0,318.9 L634.2,318.3 L642.5,318.2" fill="none" stroke="#ff3b3b" stroke-width="3.0" stroke-linejoin="round" stroke-linecap="butt"/>
<path d="M159.3,318.3 L300.0,318.4 L469.5,318.7" fill="none" stroke="#0000ff" stroke-width="1.8" stroke-dasharray="4.2 3.2"/>
<path d="M477.4,319.0 L483.1,319.5 L488.8,320.3 L494.5,319.9 L500.2,319.3 L505.9,319.0 L511.6,318.8 L517.3,319.1 L523.1,319.6 L528.8,320.0 L534.5,319.8 L540.2,319.3 L545.9,319.1 L551.6,319.0 L557.3,319.2" fill="none" stroke="#0000ff" stroke-width="1.8" stroke-dasharray="4.2 3.2"/>
<path d="M568.3,318.2 L575.0,318.5 L582.0,319.2 L590.0,319.5 L594.3,319.7 L596.5,321.2 L598.0,324.0 L599.5,331.0 L600.8,341.0 L601.6,347.0 L602.6,349.5 L603.6,345.5 L604.6,348.0 L605.6,354.0 L606.7,358.0 L607.6,353.0 L608.6,346.0 L609.5,338.0 L610.4,330.5 L612.0,324.2 L613.8,321.2 L616.0,319.2 L619.3,318.4 L623.0,319.2 L626.8,319.5 L630.0,318.9 L634.2,318.3 L642.5,318.2" fill="none" stroke="#0000ff" stroke-width="1.8" stroke-dasharray="4.2 3.2"/>
<path d="M132.7,383.8 H169.5" stroke="#ff3b3b" stroke-width="2.3" fill="none"/>
<path d="M132.7,403.7 H166" stroke="#0000ff" stroke-width="1.8" stroke-dasharray="5.6 3.6" fill="none"/>
<text x="175.2" y="389.8" class="lg">0 mT, Single Domain</text>
<text x="175.2" y="409.3" class="lg">Without NiFe</text>
<text x="665.5" y="401.6" class="lg" text-anchor="end">Device A</text>
<text x="40.6" y="296.0" class="pl">b</text>
<path d="M468.4,481.4 L130.3,481.4 L130.3,600.0 L468.4,600.0 M477.6,481.4 L559.6,481.4 M477.6,600.0 L559.6,600.0 M568.8,481.4 L674.8,481.4 L674.8,600.0 L568.8,600.0 " fill="none" stroke="#000" stroke-width="1.5" stroke-linejoin="miter"/>
<path d="M463.6,485.8 L473.0,477.0 M473.0,485.8 L482.4,477.0 M554.7,485.8 L564.1,477.0 M564.3,485.8 L573.7,477.0 M463.6,604.4 L473.0,595.6 M473.0,604.4 L482.4,595.6 M554.7,604.4 L564.1,595.6 M564.3,604.4 L573.7,595.6 " fill="none" stroke="#000" stroke-width="1.3"/>
<path d="M190.3,600.0 v-4 M250.7,600.0 v-4 M311.1,600.0 v-4 M371.5,600.0 v-4 M431.9,600.0 v-4 M508.0,600.0 v-4 M584.1,600.0 v-4 M644.2,600.0 v-4 M130.3,498.1 h4 M130.3,532.4 h4 M130.3,566.7 h4 " fill="none" stroke="#000" stroke-width="1.4"/>
<text x="129.7" y="620.4" class="tk" text-anchor="middle">0.0</text>
<text x="190.1" y="620.4" class="tk" text-anchor="middle">0.2</text>
<text x="250.5" y="620.4" class="tk" text-anchor="middle">0.4</text>
<text x="310.9" y="620.4" class="tk" text-anchor="middle">0.6</text>
<text x="371.3" y="620.4" class="tk" text-anchor="middle">0.8</text>
<text x="431.7" y="620.4" class="tk" text-anchor="middle">1.0</text>
<text x="508.3" y="620.3" class="tk" text-anchor="middle">1.4</text>
<text x="586.5" y="620.3" class="tk" text-anchor="middle">2.8</text>
<text x="645" y="620.3" class="tk" text-anchor="middle">3.0</text>
<text x="124.6" y="504.4" class="tk" text-anchor="end">0.00</text>
<text x="124.6" y="538.7" class="tk" text-anchor="end">-0.04</text>
<text x="124.6" y="573.0" class="tk" text-anchor="end">-0.08</text>
<text x="402.2" y="642.8" class="ax" text-anchor="middle">MW Freq. (GHz)</text>
<text transform="translate(74.3,540.2) rotate(-90)" class="ax" text-anchor="middle">PL (arb. units)</text>
<path d="M159.3,500.4 L159.6,500.9 L159.8,501.3 L160.1,501.9 L160.3,502.1 L160.6,502.2 L160.8,500.7 L161.1,500.8 L161.3,501.0 L161.6,500.3 L161.8,500.5 L162.1,499.6 L162.3,500.0 L162.6,499.8 L162.8,500.3 L163.1,500.6 L163.3,500.4 L163.6,501.1 L163.8,501.7 L164.1,503.0 L164.3,502.2 L164.6,500.9 L164.8,501.2 L165.1,500.0 L165.3,500.3 L165.6,499.8 L165.8,499.7 L166.1,500.7 L166.3,500.0 L166.6,500.0 L166.8,500.9 L167.1,500.7 L167.3,500.0 L167.6,500.8 L167.8,500.3 L168.1,500.5 L168.3,499.9 L168.6,500.8 L168.8,500.6 L169.1,501.0 L169.3,500.9 L169.6,500.2 L169.8,500.5 L170.1,500.7 L170.3,501.3 L170.6,501.9 L170.8,502.9 L171.1,503.6 L171.3,502.1 L171.6,502.2 L171.8,501.2 L172.1,500.6 L172.3,500.9 L172.6,500.6 L172.8,500.4 L173.1,500.6 L173.3,500.9 L173.6,500.1 L173.8,501.2 L174.1,500.0 L174.3,500.8 L174.6,501.0 L174.8,500.0 L175.1,501.0 L175.3,500.6 L175.6,500.9 L175.8,500.3 L176.1,500.3 L176.3,500.5 L176.6,501.6 L176.8,501.6 L177.1,503.4 L177.3,504.9 L177.6,506.5 L177.8,507.4 L178.1,507.4 L178.3,505.9 L178.6,504.7 L178.8,502.6 L179.1,502.2 L179.3,501.3 L179.6,501.2 L179.8,500.2 L180.1,501.2 L180.3,500.1 L180.6,500.4 L180.8,500.7 L181.1,501.0 L181.3,500.4 L181.6,501.3 L181.8,501.4 L182.1,501.8 L182.3,502.6 L182.6,503.2 L182.8,503.6 L183.1,502.8 L183.3,502.6 L183.6,502.2 L183.8,500.5 L184.1,499.9 L184.3,501.0 L184.6,500.4 L184.8,500.2 L185.1,500.1 L185.3,500.5 L185.6,500.8 L185.8,500.4 L186.1,500.4 L186.3,500.3 L186.6,501.7 L186.8,501.1 L187.1,502.2 L187.3,503.1 L187.6,501.6 L187.8,501.8 L188.1,501.6 L188.3,500.8 L188.6,500.7 L188.8,499.9 L189.1,500.3 L189.3,500.0 L189.6,500.8 L189.8,500.1 L190.1,500.2 L190.3,500.8 L190.6,500.7 L190.8,501.3 L191.1,501.2 L191.3,501.9 L191.6,503.0 L191.8,503.6 L192.1,502.6 L192.3,501.9 L192.6,500.9 L192.8,500.6 L193.1,500.8 L193.3,500.6 L193.6,500.2 L193.8,500.0 L194.1,499.8 L194.3,499.6 L194.6,500.9 L194.8,503.1 L195.1,505.0 L195.3,506.4 L195.6,509.2 L195.8,510.3 L196.1,507.9 L196.3,505.8 L196.6,503.9 L196.8,501.8 L197.1,500.8 L197.3,499.7 L197.6,499.9 L197.8,500.3 L198.1,500.2 L198.3,499.7 L198.6,500.5 L198.8,500.2 L199.1,500.1 L199.3,499.4 L199.6,500.0 L199.8,499.6 L200.1,500.1 L200.3,500.3 L200.6,501.7 L200.8,502.8 L201.1,504.4 L201.3,505.5 L201.6,506.5 L201.8,505.0 L202.1,503.6 L202.3,501.7 L202.6,501.1 L202.8,500.4 L203.1,500.1 L203.3,500.5 L203.6,500.4 L203.8,499.9 L204.1,499.9 L204.3,499.5 L204.6,500.3 L204.8,500.4 L205.1,499.9 L205.3,500.1 L205.6,500.2 L205.8,500.2 L206.1,499.5 L206.3,500.2 L206.6,500.0 L206.8,500.0 L207.1,499.7 L207.3,500.4 L207.6,501.4 L207.8,502.2 L208.1,503.3 L208.3,503.7 L208.6,503.8 L208.8,503.0 L209.1,502.2 L209.3,500.7 L209.6,500.5 L209.8,500.0 L210.1,499.3 L210.3,499.8 L210.6,499.5 L210.8,499.3 L211.1,499.4 L211.3,499.6 L211.6,499.4 L211.8,499.5 L212.1,499.3 L212.3,499.8 L212.6,499.7 L212.8,500.0 L213.1,499.9 L213.3,499.5 L213.6,500.3 L213.8,499.2 L214.1,499.7 L214.3,499.5 L214.6,499.7 L214.8,499.3 L215.1,500.6 L215.3,502.1 L215.6,504.3 L215.8,508.0 L216.1,510.8 L216.3,515.0 L216.6,518.7 L216.8,515.8 L217.1,512.5 L217.3,508.9 L217.6,505.3 L217.8,503.0 L218.1,500.7 L218.3,499.6 L218.6,499.4 L218.8,499.9 L219.1,499.9 L219.3,500.3 L219.6,500.4 L219.8,499.9 L220.1,499.6 L220.3,500.2 L220.6,499.2 L220.8,499.3 L221.1,499.8 L221.3,499.9 L221.6,499.3 L221.8,499.9 L222.1,500.2 L222.3,499.6 L222.6,499.7 L222.8,499.4 L223.1,499.5 L223.3,500.3 L223.6,499.6 L223.8,501.3 L224.1,502.7 L224.3,504.1 L224.6,505.7 L224.8,508.7 L225.1,510.1 L225.3,507.7 L225.6,505.4 L225.8,504.3 L226.1,501.9 L226.3,500.3 L226.6,499.7 L226.8,499.3 L227.1,499.9 L227.3,499.7 L227.6,499.5 L227.8,500.1 L228.1,500.2 L228.3,499.2 L228.6,499.8 L228.8,499.5 L229.1,500.3 L229.3,500.3 L229.6,500.0 L229.8,500.5 L230.1,500.9 L230.3,502.4 L230.6,501.8 L230.8,501.6 L231.1,500.9 L231.3,500.6 L231.6,500.1 L231.8,500.0 L232.1,499.3 L232.3,500.1 L232.6,499.5 L232.8,499.8 L233.1,499.5 L233.3,499.5 L233.6,499.8 L233.8,499.7 L234.1,499.6 L234.3,500.0 L234.6,499.9 L234.8,499.2 L235.1,499.5 L235.3,499.7 L235.6,500.3 L235.8,500.2 L236.1,499.8 L236.3,500.7 L236.6,504.5 L236.8,507.6 L237.1,511.8 L237.3,516.4 L237.6,521.1 L237.8,522.5 L238.1,518.1 L238.3,513.0 L238.6,508.8 L238.8,505.6 L239.1,501.7 L239.3,499.6 L239.6,500.1 L239.8,499.2 L240.1,500.1 L240.3,500.0 L240.6,499.6 L240.8,499.5 L241.1,500.1 L241.3,500.2 L241.6,499.3 L241.8,499.7 L242.1,499.8 L242.3,499.7 L242.6,499.5 L242.8,499.3 L243.1,499.8 L243.3,500.1 L243.6,499.2 L243.8,499.4 L244.1,500.1 L244.3,500.1 L244.6,499.9 L244.8,499.2 L245.1,500.0 L245.3,500.3 L245.6,500.3 L245.8,500.0 L246.1,499.2 L246.3,500.1 L246.6,499.4 L246.8,499.9 L247.1,500.3 L247.3,500.0 L247.6,499.3 L247.8,499.5 L248.1,500.2 L248.3,499.3 L248.6,499.9 L248.8,499.6 L249.1,499.3 L249.3,499.9 L249.6,499.2 L249.8,499.3 L250.1,499.6 L250.3,499.2 L250.6,499.2 L250.8,499.8 L251.1,500.0 L251.3,500.2 L251.6,499.3 L251.8,499.6 L252.1,500.2 L252.3,501.6 L252.6,502.7 L252.8,504.7 L253.1,505.6 L253.3,506.9 L253.6,507.5 L253.8,505.2 L254.1,504.2 L254.3,502.7 L254.6,501.9 L254.8,500.4 L255.1,499.9 L255.3,499.4 L255.6,499.8 L255.8,499.4 L256.1,500.0 L256.3,499.7 L256.6,499.3 L256.8,499.4 L257.1,499.6 L257.3,500.0 L257.6,499.3 L257.8,500.0 L258.1,499.9 L258.3,499.2 L258.6,499.9 L258.8,499.2 L259.1,499.3 L259.3,499.8 L259.6,499.4 L259.8,500.2 L260.1,499.7 L260.3,499.5 L260.6,500.1 L260.8,499.2 L261.1,500.0 L261.3,499.2 L261.6,499.3 L261.8,500.3 L262.1,499.9 L262.3,499.4 L262.6,499.3 L262.8,500.3 L263.1,499.9 L263.3,500.1 L263.6,499.3 L263.8,499.9 L264.1,499.5 L264.3,499.4 L264.6,499.5 L264.8,499.9 L265.1,499.5 L265.3,499.6 L265.6,499.3 L265.8,500.1 L266.1,499.9 L266.3,500.1 L266.6,499.6 L266.8,500.1 L267.1,499.7 L267.3,499.8 L267.6,499.8 L267.8,500.0 L268.1,499.6 L268.3,499.2 L268.6,499.2 L268.8,499.4 L269.1,499.2 L269.3,500.2 L269.6,499.7 L269.8,500.0 L270.1,499.1 L270.3,499.7 L270.6,500.2 L270.8,499.9 L271.1,499.6 L271.3,499.7 L271.6,499.2 L271.8,499.3 L272.1,499.3 L272.3,499.6 L272.6,499.6 L272.8,500.6 L273.1,500.8 L273.3,502.3 L273.6,503.8 L273.8,505.4 L274.1,507.4 L274.3,508.6 L274.6,506.9 L274.8,504.6 L275.1,504.1 L275.3,501.9 L275.6,501.3 L275.8,500.1 L276.1,499.9 L276.3,499.7 L276.6,500.2 L276.8,499.3 L277.1,499.9 L277.3,499.5 L277.6,499.9 L277.8,500.0 L278.1,499.3 L278.3,499.4 L278.6,499.1 L278.8,499.4 L279.1,499.2 L279.3,499.6 L279.6,500.3 L279.8,499.6 L280.1,499.5 L280.3,499.7 L280.6,499.5 L280.8,500.0 L281.1,500.0 L281.3,499.3 L281.6,499.4 L281.8,499.9 L282.1,500.2 L282.3,499.9 L282.6,499.6 L282.8,500.3 L283.1,499.1 L283.3,499.2 L283.6,500.0 L283.8,499.6 L284.1,499.2 L284.3,499.8 L284.6,500.3 L284.8,499.7 L285.1,499.5 L285.3,499.2 L285.6,499.2 L285.8,500.2 L286.1,499.7 L286.3,500.2 L286.6,499.2 L286.8,499.4 L287.1,499.2 L287.3,499.6 L287.6,499.2 L287.8,499.4 L288.1,499.6 L288.3,499.5 L288.6,499.2 L288.8,499.2 L289.1,500.3 L289.3,499.3 L289.6,499.7 L289.8,499.6 L290.1,499.7 L290.3,499.2 L290.6,499.5 L290.8,499.2 L291.1,499.8 L291.3,500.2 L291.6,499.8 L291.8,500.1 L292.1,499.4 L292.3,499.1 L292.6,499.8 L292.8,499.7 L293.1,499.8 L293.3,499.6 L293.6,499.9 L293.8,500.0 L294.1,500.2 L294.3,499.5 L294.6,499.7 L294.8,500.1 L295.1,499.4 L295.3,499.3 L295.6,499.5 L295.8,499.2 L296.1,500.0 L296.3,500.1 L296.6,499.5 L296.8,499.3 L297.1,499.2 L297.3,499.4 L297.6,499.2 L297.8,499.6 L298.1,499.8 L298.3,499.4 L298.6,499.2 L298.8,500.0 L299.1,499.2 L299.3,499.3 L299.6,499.5 L299.8,499.6 L300.1,499.2 L300.3,499.6 L300.6,499.5 L300.8,500.0 L301.1,499.8 L301.3,500.2 L301.6,501.3 L301.8,504.0 L302.1,506.9 L302.3,510.2 L302.6,514.5 L302.8,518.4 L303.1,519.5 L303.3,515.0 L303.6,511.1 L303.8,507.1 L304.1,504.6 L304.3,501.4 L304.6,499.3 L304.8,499.2 L305.1,499.3 L305.3,499.4 L305.6,499.9 L305.8,499.5 L306.1,499.2 L306.3,500.0 L306.6,499.8 L306.8,499.1 L307.1,499.2 L307.3,499.3 L307.6,499.5 L307.8,500.1 L308.1,500.2 L308.3,499.8 L308.6,499.4 L308.8,499.6 L309.1,499.5 L309.3,499.5 L309.6,499.1 L309.8,499.8 L310.1,500.1 L310.3,500.0 L310.6,499.2 L310.8,499.7 L311.1,499.3 L311.3,500.0 L311.6,499.6 L311.8,500.2 L312.1,500.1 L312.3,499.3 L312.6,499.5 L312.8,500.2 L313.1,499.7 L313.3,499.6 L313.6,499.6 L313.8,500.0 L314.1,500.2 L314.3,499.7 L314.6,500.3 L314.8,499.8 L315.1,499.2 L315.3,500.1 L315.6,499.6 L315.8,499.2 L316.1,500.3 L316.3,499.1 L316.6,499.8 L316.8,499.7 L317.1,500.2 L317.3,499.6 L317.6,499.4 L317.8,499.4 L318.1,499.4 L318.3,499.8 L318.6,499.5 L318.8,500.0 L319.1,499.4 L319.3,499.5 L319.6,499.4 L319.8,500.3 L320.1,500.1 L320.3,500.1 L320.6,499.8 L320.8,499.6 L321.1,499.3 L321.3,500.1 L321.6,499.7 L321.8,499.2 L322.1,499.3 L322.3,499.2 L322.6,500.0 L322.8,500.2 L323.1,499.3 L323.3,500.1 L323.6,499.5 L323.8,499.9 L324.1,500.1 L324.3,499.9 L324.6,500.1 L324.8,499.6 L325.1,499.1 L325.3,499.7 L325.6,499.8 L325.8,499.3 L326.1,499.6 L326.3,499.5 L326.6,499.1 L326.8,499.5 L327.1,499.6 L327.3,499.7 L327.6,500.0 L327.8,499.6 L328.1,500.3 L328.3,500.1 L328.6,500.2 L328.8,499.9 L329.1,499.9 L329.3,499.7 L329.6,500.1 L329.8,499.5 L330.1,499.8 L330.3,499.9 L330.6,499.7 L330.8,499.4 L331.1,499.2 L331.3,499.2 L331.6,499.5 L331.8,499.8 L332.1,500.0 L332.3,500.0 L332.6,499.5 L332.8,500.2 L333.1,499.4 L333.3,500.0 L333.6,499.2 L333.8,500.0 L334.1,499.9 L334.3,500.3 L334.6,500.2 L334.8,499.9 L335.1,500.1 L335.3,500.0 L335.6,499.8 L335.8,499.4 L336.1,499.7 L336.3,500.2 L336.6,499.4 L336.8,500.3 L337.1,499.8 L337.3,499.6 L337.6,499.1 L337.8,499.6 L338.1,499.3 L338.3,499.9 L338.6,500.2 L338.8,500.2 L339.1,499.8 L339.3,499.6 L339.6,499.2 L339.8,499.9 L340.1,499.8 L340.3,500.0 L340.6,499.6 L340.8,500.2 L341.1,499.4 L341.3,499.5 L341.6,499.4 L341.8,499.9 L342.1,500.2 L342.3,499.3 L342.6,499.9 L342.8,500.0 L343.1,499.4 L343.3,499.2 L343.6,499.8 L343.8,500.1 L344.1,500.2 L344.3,500.0 L344.6,499.7 L344.8,500.6 L345.1,502.0 L345.3,504.0 L345.6,505.0 L345.8,506.8 L346.1,509.2 L346.3,508.9 L346.6,506.0 L346.8,504.0 L347.1,502.5 L347.3,501.6 L347.6,500.4 L347.8,499.3 L348.1,499.3 L348.3,499.8 L348.6,499.9 L348.8,499.9 L349.1,500.0 L349.3,499.2 L349.6,499.7 L349.8,500.1 L350.1,500.3 L350.3,499.5 L350.6,500.1 L350.8,499.9 L351.1,500.2 L351.3,499.4 L351.6,499.9 L351.8,500.1 L352.1,499.7 L352.3,499.2 L352.6,499.3 L352.8,499.3 L353.1,499.2 L353.3,499.3 L353.6,499.8 L353.8,499.2 L354.1,500.0 L354.3,500.0 L354.6,500.1 L354.8,500.1 L355.1,500.0 L355.3,500.2 L355.6,500.3 L355.8,499.9 L356.1,500.3 L356.3,499.2 L356.6,499.2 L356.8,499.2 L357.1,499.4 L357.3,499.6 L357.6,499.7 L357.8,499.9 L358.1,500.0 L358.3,499.2 L358.6,499.6 L358.8,499.8 L359.1,499.6 L359.3,499.2 L359.6,499.8 L359.8,499.6 L360.1,499.9 L360.3,499.7 L360.6,500.3 L360.8,500.2 L361.1,499.2 L361.3,500.0 L361.6,500.0 L361.8,499.5 L362.1,499.2 L362.3,499.7 L362.6,499.5 L362.8,500.0 L363.1,500.2 L363.3,499.6 L363.6,499.5 L363.8,499.7 L364.1,499.9 L364.3,500.1 L364.6,499.8 L364.8,499.5 L365.1,499.5 L365.3,500.1 L365.6,499.7 L365.8,499.2 L366.1,499.6 L366.3,499.4 L366.6,499.9 L366.8,499.2 L367.1,499.4 L367.3,499.2 L367.6,499.7 L367.8,500.3 L368.1,499.8 L368.3,499.6 L368.6,500.2 L368.8,499.2 L369.1,499.5 L369.3,500.1 L369.6,499.1 L369.8,500.0 L370.1,499.5 L370.3,499.1 L370.6,499.4 L370.8,499.7 L371.1,499.6 L371.3,499.7 L371.6,499.2 L371.8,499.4 L372.1,500.3 L372.3,499.6 L372.6,499.7 L372.8,499.2 L373.1,499.4 L373.3,500.2 L373.6,499.9 L373.8,499.7 L374.1,499.2 L374.3,499.6 L374.6,500.0 L374.8,499.6 L375.1,499.8 L375.3,500.2 L375.6,499.9 L375.8,499.9 L376.1,499.1 L376.3,499.1 L376.6,500.0 L376.8,499.6 L377.1,500.2 L377.3,500.1 L377.6,500.2 L377.8,499.6 L378.1,500.3 L378.3,500.0 L378.6,500.2 L378.8,499.3 L379.1,500.0 L379.3,499.6 L379.6,500.3 L379.8,500.3 L380.1,499.4 L380.3,499.6 L380.6,499.4 L380.8,499.7 L381.1,499.4 L381.3,499.9 L381.6,499.3 L381.8,499.3 L382.1,499.7 L382.3,499.2 L382.6,499.6 L382.8,500.2 L383.1,500.2 L383.3,499.3 L383.6,499.1 L383.8,500.1 L384.1,500.3 L384.3,499.8 L384.6,499.3 L384.8,499.4 L385.1,500.2 L385.3,500.2 L385.6,499.1 L385.8,499.3 L386.1,499.6 L386.3,499.4 L386.6,500.0 L386.8,499.6 L387.1,500.0 L387.3,499.3 L387.6,499.7 L387.8,500.3 L388.1,499.9 L388.3,499.2 L388.6,499.2 L388.8,499.9 L389.1,499.6 L389.3,499.5 L389.6,499.7 L389.8,499.8 L390.1,500.3 L390.3,499.4 L390.6,499.8 L390.8,499.4 L391.1,499.8 L391.3,500.0 L391.6,499.3 L391.8,499.7 L392.1,499.9 L392.3,499.1 L392.6,500.0 L392.8,499.6 L393.1,499.7 L393.3,499.8 L393.6,500.1 L393.8,499.2 L394.1,499.7 L394.3,499.1 L394.6,499.6 L394.8,499.5 L395.1,499.1 L395.3,499.5 L395.6,499.6 L395.8,499.9 L396.1,500.2 L396.3,499.5 L396.6,499.7 L396.8,500.0 L397.1,500.2 L397.3,500.2 L397.6,500.3 L397.8,499.5 L398.1,499.3 L398.3,500.2 L398.6,499.2 L398.8,499.6 L399.1,500.0 L399.3,499.7 L399.6,499.6 L399.8,500.2 L400.1,499.5 L400.3,499.8 L400.6,500.1 L400.8,499.3 L401.1,499.5 L401.3,499.7 L401.6,499.8 L401.8,499.4 L402.1,499.6 L402.3,499.2 L402.6,499.2 L402.8,499.5 L403.1,499.3 L403.3,500.3 L403.6,499.4 L403.8,499.4 L404.1,500.0 L404.3,500.0 L404.6,499.4 L404.8,500.1 L405.1,499.9 L405.3,499.6 L405.6,499.9 L405.8,499.4 L406.1,499.4 L406.3,500.2 L406.6,499.6 L406.8,500.2 L407.1,499.3 L407.3,499.3 L407.6,499.2 L407.8,500.0 L408.1,499.8 L408.3,499.1 L408.6,499.2 L408.8,500.1 L409.1,499.7 L409.3,500.1 L409.6,499.2 L409.8,499.8 L410.1,499.2 L410.3,500.0 L410.6,499.8 L410.8,499.8 L411.1,499.4 L411.3,500.2 L411.6,499.2 L411.8,499.2 L412.1,499.9 L412.3,499.2 L412.6,499.2 L412.8,499.7 L413.1,499.9 L413.3,500.2 L413.6,500.0 L413.8,499.2 L414.1,499.9 L414.3,500.1 L414.6,499.2 L414.8,500.0 L415.1,499.4 L415.3,499.5 L415.6,499.1 L415.8,500.0 L416.1,499.7 L416.3,500.2 L416.6,499.7 L416.8,499.5 L417.1,500.8 L417.3,502.4 L417.6,505.2 L417.8,506.4 L418.1,508.5 L418.3,511.3 L418.6,513.5 L418.8,512.6 L419.1,510.4 L419.3,508.0 L419.6,505.3 L419.8,503.2 L420.1,501.9 L420.3,500.7 L420.6,499.6 L420.8,499.8 L421.1,500.2 L421.3,499.3 L421.6,499.4 L421.8,499.7 L422.1,499.7 L422.3,500.2 L422.6,499.8 L422.8,499.9 L423.1,499.6 L423.3,500.0 L423.6,500.1 L423.8,499.5 L424.1,499.2 L424.3,499.4 L424.6,499.5 L424.8,500.2 L425.1,499.4 L425.3,499.9 L425.6,499.9 L425.8,500.2 L426.1,499.2 L426.3,500.0 L426.6,499.5 L426.8,499.2 L427.1,499.9 L427.3,500.1 L427.6,499.8 L427.8,499.2 L428.1,500.3 L428.3,499.6 L428.6,499.9 L428.8,500.0 L429.1,499.4 L429.3,499.6 L429.6,499.5 L429.8,499.2 L430.1,499.2 L430.3,500.0 L430.6,499.6 L430.8,500.1 L431.1,499.2 L431.3,499.5 L431.6,499.3 L431.8,500.2 L432.1,500.1 L432.3,500.2 L432.6,499.7 L432.8,499.2 L433.1,499.6 L433.3,499.4 L433.6,499.1 L433.8,499.8 L434.1,499.5 L434.3,499.2 L434.6,499.7 L434.8,500.2 L435.1,500.2 L435.3,499.7 L435.6,499.2 L435.8,500.0 L436.1,499.2 L436.3,499.7 L436.6,499.2 L436.8,500.3 L437.1,499.8 L437.3,499.6 L437.6,499.4 L437.8,499.8 L438.1,500.3 L438.3,499.6 L438.6,499.4 L438.8,499.7 L439.1,500.2 L439.3,499.6 L439.6,499.9 L439.8,500.2 L440.1,499.5 L440.3,500.1 L440.6,499.7 L440.8,499.3 L441.1,499.2 L441.3,500.2 L441.6,499.7 L441.8,499.6 L442.1,500.2 L442.3,499.8 L442.6,499.7 L442.8,499.4 L443.1,500.0 L443.3,499.4 L443.6,499.7 L443.8,500.0 L444.1,499.8 L444.3,499.3 L444.6,499.3 L444.8,499.9 L445.1,500.0 L445.3,499.2 L445.6,500.3 L445.8,499.3 L446.1,499.3 L446.3,499.2 L446.6,499.6 L446.8,499.8 L447.1,500.1 L447.3,499.3 L447.6,499.9 L447.8,499.2 L448.1,499.8 L448.3,499.4 L448.6,499.5 L448.8,499.2 L449.1,500.0 L449.3,499.2 L449.6,500.0 L449.8,499.5 L450.1,499.8 L450.3,499.9 L450.6,499.7 L450.8,500.2 L451.1,500.2 L451.3,499.4 L451.6,499.5 L451.8,500.2 L452.1,499.3 L452.3,499.6 L452.6,499.6 L452.8,500.3 L453.1,499.3 L453.3,499.9 L453.6,500.0 L453.8,500.0 L454.1,499.1 L454.3,500.2 L454.6,499.5 L454.8,500.1 L455.1,499.9 L455.3,499.6 L455.6,500.1 L455.8,499.9 L456.1,499.5 L456.3,500.0 L456.6,499.7 L456.8,500.0 L457.1,499.8 L457.3,500.1 L457.6,499.3 L457.8,499.7 L458.1,499.1 L458.3,500.1 L458.6,500.0 L458.8,500.1 L459.1,499.2 L459.3,499.7 L459.6,499.7 L459.8,499.2 L460.1,499.3 L460.3,500.3 L460.6,500.1 L460.8,499.4 L461.1,500.1 L461.3,499.9 L461.6,499.6 L461.8,499.9 L462.1,499.4 L462.3,499.4 L462.6,499.1 L462.8,499.9 L463.1,499.8 L463.3,500.0 L463.6,499.7 L463.8,499.6 L464.1,499.5 L464.3,500.0 L464.6,499.5 L464.8,499.8 L465.1,500.0 L465.3,499.6 L465.6,499.9 L465.8,499.2 L466.1,499.4 L466.3,500.1 L466.6,499.3 L466.8,499.2 L467.1,499.1 L467.3,500.0 L467.6,499.2 L467.8,499.7 L468.1,499.6 L468.3,500.1" fill="none" stroke="#ff3b3b" stroke-width="2.7" stroke-linejoin="round" stroke-linecap="butt"/>
<path d="M477.8,502.6 L481.0,505.5 L484.1,508.2 L486.5,509.5 L488.8,513.0 L491.0,512.0 L493.5,513.9 L496.0,511.0 L498.2,509.8 L500.0,512.0 L501.4,513.9 L503.5,511.5 L505.2,509.8 L507.3,512.0 L509.2,513.9 L511.5,512.0 L513.9,511.4 L515.3,518.0 L516.2,529.0 L516.8,530.2 L517.5,526.5 L518.3,531.0 L519.0,538.0 L519.8,536.0 L520.6,520.0 L521.8,509.8 L524.0,510.0 L526.5,511.4 L529.0,514.0 L531.2,516.0 L533.5,515.3 L535.9,513.9 L538.0,511.5 L540.6,509.8 L543.0,510.9 L545.3,510.8 L548.0,509.0 L551.6,507.6 L555.0,505.5 L559.5,503.5" fill="none" stroke="#ff3b3b" stroke-width="3.0" stroke-linejoin="round" stroke-linecap="butt"/>
<path d="M568.3,498.2 L576.0,498.2 L583.0,499.3 L590.0,499.4 L593.5,500.0 L595.5,502.0 L597.5,506.5 L599.3,514.5 L600.8,526.0 L601.8,535.0 L602.5,538.5 L603.3,534.0 L604.3,528.5 L605.3,533.0 L606.3,539.5 L607.2,537.0 L608.3,527.0 L609.7,517.7 L611.2,508.5 L612.8,503.5 L615.0,500.6 L617.5,499.5 L621.0,498.6 L625.0,499.3 L630.0,498.6 L636.0,498.2 L642.3,498.1" fill="none" stroke="#ff3b3b" stroke-width="3.0" stroke-linejoin="round" stroke-linecap="butt"/>
<path d="M159.3,498.3 L300.0,498.4 L469.5,498.7" fill="none" stroke="#0000ff" stroke-width="1.8" stroke-dasharray="4.2 3.2"/>
<path d="M477.4,499.4 L483.1,499.7 L488.8,500.0 L494.5,499.7 L500.2,499.4 L505.9,499.3 L511.6,499.5 L517.3,499.7 L523.1,499.5 L528.8,499.4 L534.5,499.6 L540.2,499.8 L545.9,499.6 L551.6,499.5 L557.3,499.4" fill="none" stroke="#0000ff" stroke-width="1.8" stroke-dasharray="4.2 3.2"/>
<path d="M568.3,498.2 L576.0,498.2 L583.0,499.2 L590.0,499.3 L593.5,499.9 L595.5,501.8 L597.5,506.0 L599.3,513.5 L600.8,524.0 L601.8,531.5 L602.5,533.5 L603.3,529.0 L604.3,524.5 L605.3,529.0 L606.3,536.0 L607.2,534.0 L608.3,525.5 L609.7,516.7 L611.2,508.0 L612.8,503.3 L615.0,500.5 L617.5,499.4 L621.0,498.6 L625.0,499.2 L630.0,498.6 L636.0,498.2 L642.3,498.1" fill="none" stroke="#0000ff" stroke-width="1.8" stroke-dasharray="4.2 3.2"/>
<path d="M132.7,563.8 H169.5" stroke="#ff3b3b" stroke-width="2.3" fill="none"/>
<path d="M132.7,583.7 H166" stroke="#0000ff" stroke-width="1.8" stroke-dasharray="5.6 3.6" fill="none"/>
<text x="175.2" y="569.8" class="lg">0 mT, Multi Domains</text>
<text x="175.2" y="589.3" class="lg">Without NiFe</text>
<text x="665.5" y="581.6" class="lg" text-anchor="end">Device B</text>
<text x="40.6" y="476.0" class="pl">c</text>
</svg>
</body></html>
